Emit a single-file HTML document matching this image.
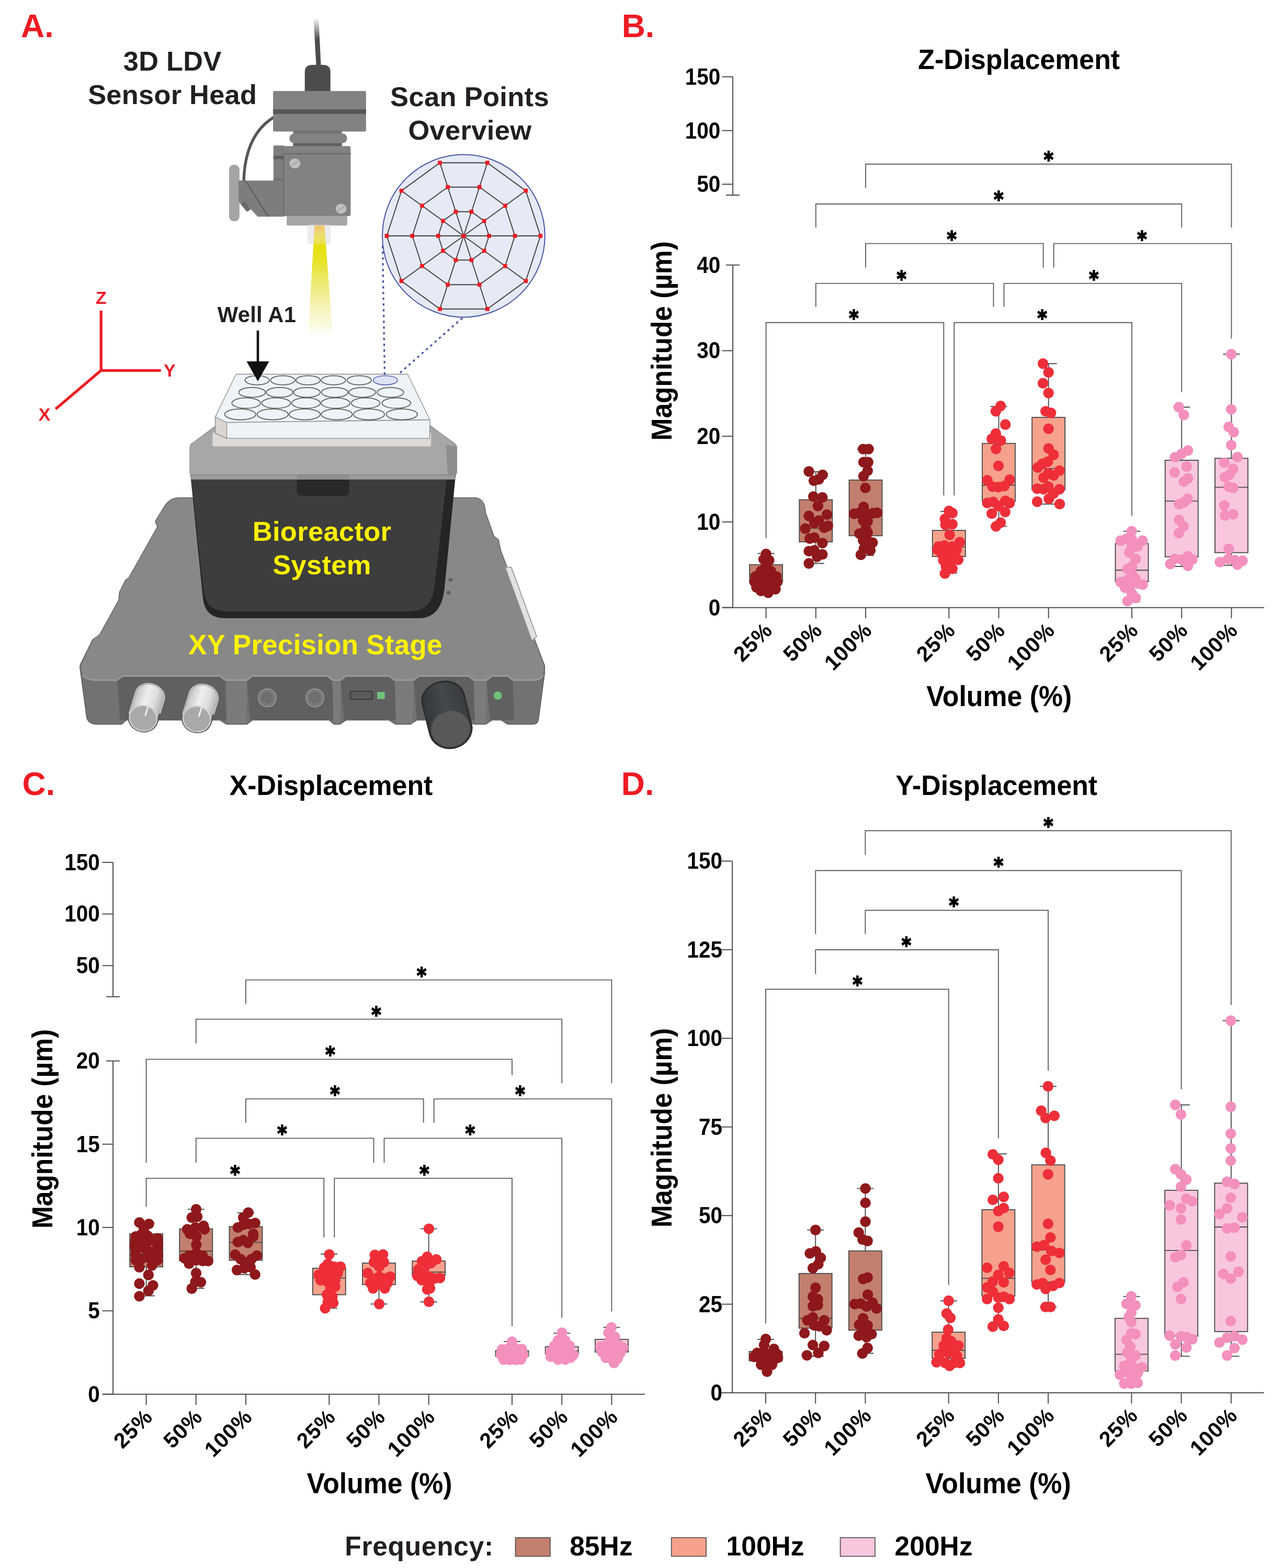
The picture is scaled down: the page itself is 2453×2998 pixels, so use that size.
<!DOCTYPE html>
<html lang="en"><head><meta charset="utf-8"><title>Figure</title>
<style>
html,body{margin:0;padding:0;background:#fff;}
body{width:2453px;height:2998px;overflow:hidden;}
svg{display:block;font-family:"Liberation Sans",sans-serif;font-weight:bold;}
</style></head><body>
<svg width="2453" height="2998" viewBox="0 0 2453 2998">
<rect width="2453" height="2998" fill="#fff"/>
<defs>
<linearGradient id="cabfade" x1="0" y1="0" x2="0" y2="1"><stop offset="0" stop-color="#4b4d4b" stop-opacity="0"/><stop offset="0.45" stop-color="#4b4d4b" stop-opacity="1"/></linearGradient>
<linearGradient id="beam" x1="0" y1="0" x2="0" y2="1"><stop offset="0" stop-color="#f3b83e"/><stop offset="0.07" stop-color="#f0d23e"/><stop offset="0.12" stop-color="#e9df2c"/><stop offset="0.17" stop-color="#e6e010"/><stop offset="0.31" stop-color="#e8e325"/><stop offset="0.48" stop-color="#ede96a"/><stop offset="0.62" stop-color="#f2ee98"/><stop offset="0.76" stop-color="#f7f5c4"/><stop offset="0.9" stop-color="#fbfbe6"/><stop offset="1" stop-color="#ffffff" stop-opacity="0"/></linearGradient>
<linearGradient id="knobS" x1="0" y1="0" x2="1" y2="0"><stop offset="0" stop-color="#c4c2c2"/><stop offset="0.4" stop-color="#f0eeee"/><stop offset="0.7" stop-color="#dedcdc"/><stop offset="1" stop-color="#b4b2b2"/></linearGradient>
<linearGradient id="knobD" x1="0" y1="0" x2="1" y2="0"><stop offset="0" stop-color="#34373a"/><stop offset="0.5" stop-color="#44484b"/><stop offset="1" stop-color="#3a3c3e"/></linearGradient>
<linearGradient id="front" x1="0" y1="0" x2="0" y2="1"><stop offset="0" stop-color="#7a7a7a"/><stop offset="1" stop-color="#6a6a6a"/></linearGradient>
</defs>
<g transform="translate(130,920) scale(0.29377)">
<path d="M720,108 H2650 Q2700,112 2712,165 L2718,205 L2772,358 L2802,382 L2816,450 L3102,1200 V1250 L3062,1550 Q3058,1582 3025,1582 H2860 L2820,1555 H2760 L2720,1582 H2640 L2600,1555 H2270 L2230,1582 H2130 L2090,1555 H1810 L1770,1582 H1730 L1700,1555 H1200 L1165,1582 H1030 L990,1555 H380 L350,1582 H185 Q135,1580 122,1540 L78,1215 Q76,1195 90,1175 L160,1032 L205,1000 L330,775 L335,722 L375,642 L395,630 L582,297 L568,262 L625,168 Q660,110 720,108 Z" fill="#727272" stroke="#5a5a5a" stroke-width="5" stroke-linejoin="round"/>
<path d="M720,110 H2650 Q2700,112 2710,165 L2716,205 L2770,358 L2800,382 L2814,450 L3098,1200 L3092,1262 Q3080,1290 3040,1295 H2895 L2860,1268 H2760 L2725,1295 H2640 L2605,1268 H2285 L2250,1295 H2125 L2090,1268 H1810 L1775,1295 H1720 L1690,1268 H1200 L1165,1295 H1022 L990,1268 H355 L320,1295 H180 Q110,1290 95,1262 L82,1205 L162,1032 L207,1000 L332,775 L337,722 L377,642 L397,630 L584,297 L570,262 L627,168 Q662,112 720,110 Z" fill="#888888"/>
<path d="M95,1262 Q110,1290 180,1295 H320 L355,1268 H990 L1022,1295 H1165 L1200,1268 H1690 L1720,1295 H1775 L1810,1268 H2090 L2125,1295 H2250 L2285,1268 H2605 L2640,1295 H2725 L2760,1268 H2860 L2895,1295 H3040 Q3080,1290 3092,1262" fill="none" stroke="#9d9d9d" stroke-width="9" stroke-linejoin="round"/>
<path d="M320,1300 L355,1273 H987 L1022,1300 L1030,1555 H340 Z" fill="#606060"/>
<path d="M1165,1300 L1200,1273 H1685 L1720,1300 L1728,1555 H1185 Z" fill="#606060"/>
<path d="M1775,1300 L1810,1273 H2090 L2125,1300 L2133,1555 H1795 Z" fill="#606060"/>
<path d="M2250,1300 L2285,1273 H2605 L2640,1300 L2648,1555 H2270 Z" fill="#606060"/>
<path d="M2725,1300 L2760,1273 H2860 L2895,1300 L2903,1555 H2745 Z" fill="#606060"/>
<path d="M1030,1302 H1165 L1159,1578 H1036 Z" fill="#7b7b7b"/>
<path d="M1722,1302 H1775 L1769,1578 H1728 Z" fill="#7b7b7b"/>
<path d="M2130,1302 H2250 L2244,1578 H2136 Z" fill="#7b7b7b"/>
<path d="M2642,1302 H2725 L2719,1578 H2648 Z" fill="#7b7b7b"/>
<path d="M2845,560 L2885,560 L3050,1010 L3020,1040 Z" fill="#e2e0e0" stroke="#8a8a8a" stroke-width="5" stroke-linejoin="round"/>
<ellipse cx="2490" cy="642" rx="15" ry="11" fill="#606060"/><ellipse cx="2477" cy="726" rx="15" ry="12" fill="#606060"/>
<circle cx="1297" cy="1410" r="57" fill="#6b6b6b" stroke="#969696" stroke-width="8"/>
<circle cx="1297" cy="1410" r="43" fill="#6e6e6e" stroke="#8a8a8a" stroke-width="5"/>
<circle cx="1607" cy="1410" r="57" fill="#6b6b6b" stroke="#969696" stroke-width="8"/>
<circle cx="1607" cy="1410" r="43" fill="#6e6e6e" stroke="#8a8a8a" stroke-width="5"/>
<rect x="1838" y="1368" width="144" height="52" rx="5" fill="#5a5a5a" stroke="#3f3f3f" stroke-width="8"/>
<rect x="2012" y="1372" width="50" height="46" rx="4" fill="#6fc07a"/>
<circle cx="2797" cy="1395" r="27" fill="#6fc07a"/>
<g transform="translate(489,1543) rotate(17)">
<path d="M-95,0 V-150 A95,80 0 0 1 95,-150 V0 A95,86 0 0 1 -95,0 Z" fill="url(#knobS)" stroke="#5a5a5a" stroke-width="11" stroke-linejoin="round"/>
<path d="M-95,0 V-150 A95,80 0 0 1 95,-150 V-60" fill="none" stroke="#bdbbbb" stroke-width="11"/>
<ellipse cx="0" cy="0" rx="90" ry="82" fill="#a9a9a9" stroke="#d2d0d0" stroke-width="8"/>
<path d="M8,-22 V-78" stroke="#f0f0f0" stroke-width="10" stroke-linecap="round"/>
</g>
<g transform="translate(838,1548) rotate(17)">
<path d="M-95,0 V-150 A95,80 0 0 1 95,-150 V0 A95,86 0 0 1 -95,0 Z" fill="url(#knobS)" stroke="#5a5a5a" stroke-width="11" stroke-linejoin="round"/>
<path d="M-95,0 V-150 A95,80 0 0 1 95,-150 V-60" fill="none" stroke="#bdbbbb" stroke-width="11"/>
<ellipse cx="0" cy="0" rx="90" ry="82" fill="#a9a9a9" stroke="#d2d0d0" stroke-width="8"/>
<path d="M8,-22 V-78" stroke="#f0f0f0" stroke-width="10" stroke-linecap="round"/>
</g>
<g transform="translate(2490,1612) rotate(-14)">
<path d="M-138,0 V-200 A138,112 0 0 1 138,-200 V0 A138,125 0 0 1 -138,0 Z" fill="url(#knobD)" stroke="#2c2e2f" stroke-width="12" stroke-linejoin="round"/>
<ellipse cx="0" cy="0" rx="128" ry="118" fill="#585a5a" stroke="#44474a" stroke-width="6"/>
</g>
</g>
<g transform="translate(130,920) scale(0.29377)">
<path d="M795,-60 H2525 L2450,700 Q2430,885 2290,892 H1010 Q890,885 878,760 Z" fill="#242525"/>
<path d="M797,-60 H2470 L2385,690 Q2365,840 2240,848 H1025 Q900,840 884,725 Z" fill="#3d3d3d"/>
<rect x="1490" y="-40" width="340" height="135" rx="28" fill="#272929"/>
</g>
<g transform="translate(340,660) scale(0.32258)">
<path d="M68,610 Q68,590 85,580 L225,478 H1498 L1640,580 Q1655,590 1655,610 V750 Q1655,772 1635,772 H88 Q68,772 68,750 Z" fill="#a7a7a7"/>
<path d="M1590,590 L1655,600 V750 Q1655,772 1635,772 H1600 Z" fill="#8d8d8d"/>
<path d="M75,590 L225,478 H1498 L1648,590" fill="none" stroke="#8a8a8a" stroke-width="4"/>
<rect x="78" y="768" width="1565" height="28" fill="#9c9c9c"/>
<rect x="78" y="766" width="1565" height="5" fill="#868686"/>
<rect x="708" y="770" width="308" height="26" fill="#8e8e8e"/>
</g>
<g transform="translate(340,660) scale(0.32258)">
<rect x="205" y="515" width="1296" height="86" rx="10" fill="#dcd9d7" stroke="#bdbab8" stroke-width="3"/>
<path d="M345,172 H1362 L1494,442 L1492,552 H290 L222,522 V425 Z" fill="#eef3f8" stroke="#8b8b8b" stroke-width="4" stroke-linejoin="round"/>
<path d="M222,425 L290,458 V552 L222,522 Z" fill="#d9d5d3" stroke="#8b8b8b" stroke-width="4" stroke-linejoin="round"/>
<path d="M290,458 L1494,442" fill="none" stroke="#8b8b8b" stroke-width="5"/>
<ellipse cx="470" cy="208" rx="72" ry="27" fill="none" stroke="#606060" stroke-width="5.5"/>
<ellipse cx="622" cy="208" rx="72" ry="27" fill="none" stroke="#606060" stroke-width="5.5"/>
<ellipse cx="772" cy="208" rx="72" ry="27" fill="none" stroke="#606060" stroke-width="5.5"/>
<ellipse cx="922" cy="208" rx="72" ry="27" fill="none" stroke="#606060" stroke-width="5.5"/>
<ellipse cx="1075" cy="208" rx="72" ry="27" fill="none" stroke="#606060" stroke-width="5.5"/>
<ellipse cx="1230" cy="208" rx="72" ry="27" fill="#dfe3f3" stroke="#4959a7" stroke-width="4.5"/>
<ellipse cx="440" cy="280" rx="79" ry="29" fill="none" stroke="#606060" stroke-width="5.5"/>
<ellipse cx="603" cy="280" rx="79" ry="29" fill="none" stroke="#606060" stroke-width="5.5"/>
<ellipse cx="765" cy="280" rx="79" ry="29" fill="none" stroke="#606060" stroke-width="5.5"/>
<ellipse cx="930" cy="280" rx="79" ry="29" fill="none" stroke="#606060" stroke-width="5.5"/>
<ellipse cx="1093" cy="280" rx="79" ry="29" fill="none" stroke="#606060" stroke-width="5.5"/>
<ellipse cx="1260" cy="280" rx="79" ry="29" fill="none" stroke="#606060" stroke-width="5.5"/>
<ellipse cx="405" cy="343" rx="85" ry="31" fill="none" stroke="#606060" stroke-width="5.5"/>
<ellipse cx="583" cy="343" rx="85" ry="31" fill="none" stroke="#606060" stroke-width="5.5"/>
<ellipse cx="760" cy="343" rx="85" ry="31" fill="none" stroke="#606060" stroke-width="5.5"/>
<ellipse cx="935" cy="343" rx="85" ry="31" fill="none" stroke="#606060" stroke-width="5.5"/>
<ellipse cx="1113" cy="343" rx="85" ry="31" fill="none" stroke="#606060" stroke-width="5.5"/>
<ellipse cx="1295" cy="343" rx="85" ry="31" fill="none" stroke="#606060" stroke-width="5.5"/>
<ellipse cx="370" cy="410" rx="92" ry="32" fill="none" stroke="#606060" stroke-width="5.5"/>
<ellipse cx="562" cy="410" rx="92" ry="32" fill="none" stroke="#606060" stroke-width="5.5"/>
<ellipse cx="752" cy="410" rx="92" ry="32" fill="none" stroke="#606060" stroke-width="5.5"/>
<ellipse cx="942" cy="410" rx="92" ry="32" fill="none" stroke="#606060" stroke-width="5.5"/>
<ellipse cx="1133" cy="410" rx="92" ry="32" fill="none" stroke="#606060" stroke-width="5.5"/>
<ellipse cx="1328" cy="410" rx="92" ry="32" fill="none" stroke="#606060" stroke-width="5.5"/>
</g>
<g transform="translate(400,0) scale(0.22613)">
<path d="M882,150 L925,150 L945,560 L905,560 Z" fill="url(#cabfade)"/>
<path d="M808,770 V610 Q808,548 870,548 H963 Q1025,548 1025,610 V770 Z" fill="#4b4d4b"/>
<path d="M548,990 C400,1080 300,1250 292,1530" fill="none" stroke="#555755" stroke-width="24"/>
<rect x="540" y="770" width="786" height="342" rx="12" fill="#808381"/>
<rect x="540" y="925" width="786" height="38" fill="#565856"/>
<rect x="710" y="1105" width="412" height="135" fill="#6f7270"/>
<rect x="678" y="1128" width="488" height="84" rx="42" fill="#808381"/>
<rect x="710" y="1212" width="412" height="24" fill="#5f6160"/>
<rect x="168" y="1393" width="88" height="478" rx="40" fill="#a4a4a4"/>
<path d="M248,1527 H635 V1832 H410 L330,1745 L318,1790 L268,1730 L248,1700 Z" fill="#7b7e7c"/>
<path d="M268,1725 L320,1790 L352,1770 L300,1700 Z" fill="#6a6c6a"/>
<path d="M305,1527 L500,1832" stroke="#5a5c5a" stroke-width="9" fill="none"/>
<rect x="543" y="1230" width="95" height="297" rx="6" fill="#7b7e7c"/>
<rect x="543" y="1318" width="95" height="28" fill="#5d5f5d"/>
<rect x="543" y="1515" width="95" height="12" fill="#666866"/>
<rect x="630" y="1235" width="566" height="592" rx="16" fill="#808381"/>
<rect x="630" y="1295" width="566" height="9" fill="#666866"/>
<rect x="626" y="1300" width="9" height="525" fill="#6c6e6c"/>
<ellipse cx="724" cy="1382" rx="46" ry="42" fill="#c2c0be"/>
<path d="M694,1400 L754,1364" stroke="#a5a3a1" stroke-width="9" stroke-linecap="round"/>
<ellipse cx="1115" cy="1765" rx="46" ry="42" fill="#c2c0be"/>
<path d="M1085,1783 L1145,1747" stroke="#a5a3a1" stroke-width="9" stroke-linecap="round"/>
<rect x="655" y="1825" width="512" height="82" rx="10" fill="#a6a6a6"/>
<path d="M835,1905 H1022 V2040 Q1022,2062 1000,2062 H857 Q835,2062 835,2040 Z" fill="#ededed" stroke="#e2e2e2" stroke-width="4"/>
</g>
<path d="M601.4,431 L620.3,431 L636.9,648 L588.6,648 Z" fill="url(#beam)"/>
<rect x="588.8" y="431" width="42.4" height="35.3" rx="4" fill="#e8e8ee" opacity="0.28"/>
<circle cx="886.4" cy="451.0" r="155.4" fill="#e6eaf6" stroke="#4959a7" stroke-width="2"/>
<g fill="none" stroke="#414141" stroke-width="1.9"><polygon points="935.0,451.0 925.7,422.4 901.4,404.8 871.4,404.8 847.1,422.4 837.8,451.0 847.1,479.6 871.4,497.2 901.4,497.2 925.7,479.6"/><polygon points="984.5,451.0 965.8,393.3 916.7,357.7 856.1,357.7 807.0,393.3 788.3,451.0 807.0,508.7 856.1,544.3 916.7,544.3 965.8,508.7"/><polygon points="1033.3,451.0 1005.2,364.7 931.8,311.3 841.0,311.3 767.6,364.7 739.5,451.0 767.6,537.3 841.0,590.7 931.8,590.7 1005.2,537.3"/><line x1="886.4" y1="451.0" x2="1033.3" y2="451.0"/><line x1="886.4" y1="451.0" x2="1005.2" y2="364.7"/><line x1="886.4" y1="451.0" x2="931.8" y2="311.3"/><line x1="886.4" y1="451.0" x2="841.0" y2="311.3"/><line x1="886.4" y1="451.0" x2="767.6" y2="364.7"/><line x1="886.4" y1="451.0" x2="739.5" y2="451.0"/><line x1="886.4" y1="451.0" x2="767.6" y2="537.3"/><line x1="886.4" y1="451.0" x2="841.0" y2="590.7"/><line x1="886.4" y1="451.0" x2="931.8" y2="590.7"/><line x1="886.4" y1="451.0" x2="1005.2" y2="537.3"/></g>
<g fill="#ee1c25"><rect x="882.5" y="447.1" width="7.8" height="7.8"/><rect x="931.1" y="447.1" width="7.8" height="7.8"/><rect x="921.8" y="418.5" width="7.8" height="7.8"/><rect x="897.5" y="400.9" width="7.8" height="7.8"/><rect x="867.5" y="400.9" width="7.8" height="7.8"/><rect x="843.2" y="418.5" width="7.8" height="7.8"/><rect x="833.9" y="447.1" width="7.8" height="7.8"/><rect x="843.2" y="475.7" width="7.8" height="7.8"/><rect x="867.5" y="493.3" width="7.8" height="7.8"/><rect x="897.5" y="493.3" width="7.8" height="7.8"/><rect x="921.8" y="475.7" width="7.8" height="7.8"/><rect x="980.6" y="447.1" width="7.8" height="7.8"/><rect x="961.9" y="389.4" width="7.8" height="7.8"/><rect x="912.8" y="353.8" width="7.8" height="7.8"/><rect x="852.2" y="353.8" width="7.8" height="7.8"/><rect x="803.1" y="389.4" width="7.8" height="7.8"/><rect x="784.4" y="447.1" width="7.8" height="7.8"/><rect x="803.1" y="504.8" width="7.8" height="7.8"/><rect x="852.2" y="540.4" width="7.8" height="7.8"/><rect x="912.8" y="540.4" width="7.8" height="7.8"/><rect x="961.9" y="504.8" width="7.8" height="7.8"/><rect x="1029.4" y="447.1" width="7.8" height="7.8"/><rect x="1001.3" y="360.8" width="7.8" height="7.8"/><rect x="927.9" y="307.4" width="7.8" height="7.8"/><rect x="837.1" y="307.4" width="7.8" height="7.8"/><rect x="763.7" y="360.8" width="7.8" height="7.8"/><rect x="735.6" y="447.1" width="7.8" height="7.8"/><rect x="763.7" y="533.4" width="7.8" height="7.8"/><rect x="837.1" y="586.8" width="7.8" height="7.8"/><rect x="927.9" y="586.8" width="7.8" height="7.8"/><rect x="1001.3" y="533.4" width="7.8" height="7.8"/></g>
<path d="M731.5,470 L735.5,717" fill="none" stroke="#4656a3" stroke-width="3.2" stroke-dasharray="4.6 6.4"/>
<path d="M884,608 L760,717" fill="none" stroke="#4656a3" stroke-width="3.2" stroke-dasharray="4.6 6.4"/>
<path d="M493,632 V695" stroke="#111" stroke-width="4.6" fill="none"/>
<path d="M471.5,691 H514.5 L493,729 Z" fill="#111"/>
<path d="M193.2,594 V708.3 H307.7 M193.2,708.3 L106.3,782" fill="none" stroke="#ed1c24" stroke-width="5.2" stroke-linejoin="miter"/>
<text x="329.7" y="134.8" font-size="52.3" letter-spacing="0.3" text-anchor="middle" fill="#231f20">3D LDV</text>
<text x="329.7" y="198.8" font-size="52.3" letter-spacing="0.3" text-anchor="middle" fill="#231f20">Sensor Head</text>
<text x="898" y="203" font-size="52.5" letter-spacing="0.3" text-anchor="middle" fill="#231f20">Scan Points</text>
<text x="898.4" y="266.6" font-size="52.5" letter-spacing="0.3" text-anchor="middle" fill="#231f20">Overview</text>
<text x="491" y="616" font-size="41.7" letter-spacing="0.3" text-anchor="middle" fill="#231f20">Well A1</text>
<text x="615.5" y="1034.4" font-size="52.5" letter-spacing="0.3" text-anchor="middle" fill="#fff200">Bioreactor</text>
<text x="615.5" y="1098" font-size="52.5" letter-spacing="0.3" text-anchor="middle" fill="#fff200">System</text>
<text x="602.8" y="1251.2" font-size="52.8" letter-spacing="0.3" text-anchor="middle" fill="#fff200">XY Precision Stage</text>
<text x="193.6" y="581.3" font-size="34" letter-spacing="0.3" text-anchor="middle" fill="#ed1c24">Z</text>
<text x="324.5" y="719.5" font-size="34" letter-spacing="0.3" text-anchor="middle" fill="#ed1c24">Y</text>
<text x="85.2" y="804" font-size="34" letter-spacing="0.3" text-anchor="middle" fill="#ed1c24">X</text>
<line x1="1381.5" y1="1161.7" x2="2417.0" y2="1161.7" stroke="#4d4d4d" stroke-width="2" />
<line x1="1464.6" y1="1161.7" x2="1464.6" y2="1182.2" stroke="#4d4d4d" stroke-width="2" />
<line x1="1559.8" y1="1161.7" x2="1559.8" y2="1182.2" stroke="#4d4d4d" stroke-width="2" />
<line x1="1655.0" y1="1161.7" x2="1655.0" y2="1182.2" stroke="#4d4d4d" stroke-width="2" />
<line x1="1814.3" y1="1161.7" x2="1814.3" y2="1182.2" stroke="#4d4d4d" stroke-width="2" />
<line x1="1909.5" y1="1161.7" x2="1909.5" y2="1182.2" stroke="#4d4d4d" stroke-width="2" />
<line x1="2004.7" y1="1161.7" x2="2004.7" y2="1182.2" stroke="#4d4d4d" stroke-width="2" />
<line x1="2164.0" y1="1161.7" x2="2164.0" y2="1182.2" stroke="#4d4d4d" stroke-width="2" />
<line x1="2259.2" y1="1161.7" x2="2259.2" y2="1182.2" stroke="#4d4d4d" stroke-width="2" />
<line x1="2354.4" y1="1161.7" x2="2354.4" y2="1182.2" stroke="#4d4d4d" stroke-width="2" />
<text transform="translate(1479.1,1207.7) rotate(-45)" font-size="41" letter-spacing="0.8" text-anchor="end" fill="#000">25%</text>
<text transform="translate(1574.3,1207.7) rotate(-45)" font-size="41" letter-spacing="0.8" text-anchor="end" fill="#000">50%</text>
<text transform="translate(1669.5,1207.7) rotate(-45)" font-size="41" letter-spacing="0.8" text-anchor="end" fill="#000">100%</text>
<text transform="translate(1828.8,1207.7) rotate(-45)" font-size="41" letter-spacing="0.8" text-anchor="end" fill="#000">25%</text>
<text transform="translate(1924.0,1207.7) rotate(-45)" font-size="41" letter-spacing="0.8" text-anchor="end" fill="#000">50%</text>
<text transform="translate(2019.2,1207.7) rotate(-45)" font-size="41" letter-spacing="0.8" text-anchor="end" fill="#000">100%</text>
<text transform="translate(2178.5,1207.7) rotate(-45)" font-size="41" letter-spacing="0.8" text-anchor="end" fill="#000">25%</text>
<text transform="translate(2273.7,1207.7) rotate(-45)" font-size="41" letter-spacing="0.8" text-anchor="end" fill="#000">50%</text>
<text transform="translate(2368.9,1207.7) rotate(-45)" font-size="41" letter-spacing="0.8" text-anchor="end" fill="#000">100%</text>
<line x1="1401.1" y1="1161.7" x2="1401.1" y2="506.7" stroke="#4d4d4d" stroke-width="2" />
<line x1="1380.6" y1="1161.7" x2="1401.1" y2="1161.7" stroke="#4d4d4d" stroke-width="2" />
<text transform="translate(1377.3,1160.8) scale(1,1.09)" x="0" y="14.5" font-size="40.5" text-anchor="end" fill="#000">0</text>
<line x1="1380.6" y1="997.9" x2="1401.1" y2="997.9" stroke="#4d4d4d" stroke-width="2" />
<text transform="translate(1377.3,997.0) scale(1,1.09)" x="0" y="14.5" font-size="40.5" text-anchor="end" fill="#000">10</text>
<line x1="1380.6" y1="834.2" x2="1401.1" y2="834.2" stroke="#4d4d4d" stroke-width="2" />
<text transform="translate(1377.3,833.3) scale(1,1.09)" x="0" y="14.5" font-size="40.5" text-anchor="end" fill="#000">20</text>
<line x1="1380.6" y1="670.5" x2="1401.1" y2="670.5" stroke="#4d4d4d" stroke-width="2" />
<text transform="translate(1377.3,669.6) scale(1,1.09)" x="0" y="14.5" font-size="40.5" text-anchor="end" fill="#000">30</text>
<line x1="1388.1" y1="506.7" x2="1414.1" y2="506.7" stroke="#4d4d4d" stroke-width="2" />
<text transform="translate(1377.3,505.8) scale(1,1.09)" x="0" y="14.5" font-size="40.5" text-anchor="end" fill="#000">40</text>
<line x1="1401.1" y1="373.0" x2="1401.1" y2="146.8" stroke="#4d4d4d" stroke-width="2" />
<line x1="1380.6" y1="146.8" x2="1401.1" y2="146.8" stroke="#4d4d4d" stroke-width="2" />
<text transform="translate(1377.3,145.9) scale(1,1.09)" x="0" y="14.5" font-size="40.5" text-anchor="end" fill="#000">150</text>
<line x1="1380.6" y1="249.6" x2="1401.1" y2="249.6" stroke="#4d4d4d" stroke-width="2" />
<text transform="translate(1377.3,248.7) scale(1,1.09)" x="0" y="14.5" font-size="40.5" text-anchor="end" fill="#000">100</text>
<line x1="1380.6" y1="352.3" x2="1401.1" y2="352.3" stroke="#4d4d4d" stroke-width="2" />
<text transform="translate(1377.3,351.4) scale(1,1.09)" x="0" y="14.5" font-size="40.5" text-anchor="end" fill="#000">50</text>
<line x1="1388.1" y1="373.0" x2="1414.1" y2="373.0" stroke="#4d4d4d" stroke-width="2" />
<text transform="translate(1948.2,132.4) scale(1,1.05)" font-size="51.8" text-anchor="middle" fill="#000">Z-Displacement</text>
<text transform="translate(1910.2,1350.2) scale(1,1.06)" font-size="51.8" text-anchor="middle" fill="#000">Volume (%)</text>
<text transform="translate(1283.6,651.7) rotate(-90) scale(1,1.08)" font-size="51.5" text-anchor="middle" fill="#000">Magnitude (µm)</text>
<path d="M1655.0,359.5 V313.8 H2354.4 V435.1" fill="none" stroke="#606060" stroke-width="1.9"/>
<text transform="translate(2005.0,318.7) scale(1,1.18)" font-family="DejaVu Sans, sans-serif" font-size="35" stroke="#000" stroke-width="1.7" stroke-linejoin="miter" text-anchor="middle" fill="#000">*</text>
<path d="M1559.8,435.1 V390.0 H2259.2 V435.1" fill="none" stroke="#606060" stroke-width="1.9"/>
<text transform="translate(1909.5,394.9) scale(1,1.18)" font-family="DejaVu Sans, sans-serif" font-size="35" stroke="#000" stroke-width="1.7" stroke-linejoin="miter" text-anchor="middle" fill="#000">*</text>
<path d="M1655.0,511.7 V465.6 H1994.7 V511.7" fill="none" stroke="#606060" stroke-width="1.9"/>
<text transform="translate(1819.6,470.5) scale(1,1.18)" font-family="DejaVu Sans, sans-serif" font-size="35" stroke="#000" stroke-width="1.7" stroke-linejoin="miter" text-anchor="middle" fill="#000">*</text>
<path d="M2014.7,511.7 V465.6 H2354.4 V647.6" fill="none" stroke="#606060" stroke-width="1.9"/>
<text transform="translate(2183.3,470.5) scale(1,1.18)" font-family="DejaVu Sans, sans-serif" font-size="35" stroke="#000" stroke-width="1.7" stroke-linejoin="miter" text-anchor="middle" fill="#000">*</text>
<path d="M1559.8,586.7 V541.9 H1899.5 V586.7" fill="none" stroke="#606060" stroke-width="1.9"/>
<text transform="translate(1723.7,546.8) scale(1,1.18)" font-family="DejaVu Sans, sans-serif" font-size="35" stroke="#000" stroke-width="1.7" stroke-linejoin="miter" text-anchor="middle" fill="#000">*</text>
<path d="M1919.5,586.7 V541.9 H2259.2 V749.7" fill="none" stroke="#606060" stroke-width="1.9"/>
<text transform="translate(2091.5,546.8) scale(1,1.18)" font-family="DejaVu Sans, sans-serif" font-size="35" stroke="#000" stroke-width="1.7" stroke-linejoin="miter" text-anchor="middle" fill="#000">*</text>
<path d="M1464.6,1028.7 V616.8 H1804.3 V947.3" fill="none" stroke="#606060" stroke-width="1.9"/>
<text transform="translate(1632.4,621.7) scale(1,1.18)" font-family="DejaVu Sans, sans-serif" font-size="35" stroke="#000" stroke-width="1.7" stroke-linejoin="miter" text-anchor="middle" fill="#000">*</text>
<path d="M1824.3,947.3 V616.8 H2164.0 V986.2" fill="none" stroke="#606060" stroke-width="1.9"/>
<text transform="translate(1992.6,621.7) scale(1,1.18)" font-family="DejaVu Sans, sans-serif" font-size="35" stroke="#000" stroke-width="1.7" stroke-linejoin="miter" text-anchor="middle" fill="#000">*</text>
<line x1="1464.6" y1="1128.5" x2="1464.6" y2="1058.2" stroke="#4d4d4d" stroke-width="1.9" />
<line x1="1448.6" y1="1128.5" x2="1480.6" y2="1128.5" stroke="#4d4d4d" stroke-width="1.9" />
<line x1="1448.6" y1="1058.2" x2="1480.6" y2="1058.2" stroke="#4d4d4d" stroke-width="1.9" />
<rect x="1433.1" y="1079.7" width="63" height="33.0" fill="#c37f6e" stroke="#4d4d4d" stroke-width="1.9"/>
<line x1="1433.1" y1="1098.0" x2="1496.1" y2="1098.0" stroke="#4d4d4d" stroke-width="1.9" />
<circle cx="1464.6" cy="1059.1" r="10.2" fill="#8e181b"/>
<circle cx="1460.1" cy="1069.5" r="10.2" fill="#8e181b"/>
<circle cx="1470.5" cy="1071.2" r="10.2" fill="#8e181b"/>
<circle cx="1464.6" cy="1081.6" r="10.2" fill="#8e181b"/>
<circle cx="1454.9" cy="1091.9" r="10.2" fill="#8e181b"/>
<circle cx="1473.9" cy="1091.9" r="10.2" fill="#8e181b"/>
<circle cx="1444.6" cy="1102.3" r="10.2" fill="#8e181b"/>
<circle cx="1464.6" cy="1100.6" r="10.2" fill="#8e181b"/>
<circle cx="1484.3" cy="1102.3" r="10.2" fill="#8e181b"/>
<circle cx="1442.8" cy="1112.7" r="10.2" fill="#8e181b"/>
<circle cx="1453.2" cy="1110.9" r="10.2" fill="#8e181b"/>
<circle cx="1475.7" cy="1110.9" r="10.2" fill="#8e181b"/>
<circle cx="1486.0" cy="1112.7" r="10.2" fill="#8e181b"/>
<circle cx="1446.3" cy="1123.0" r="10.2" fill="#8e181b"/>
<circle cx="1461.8" cy="1121.3" r="10.2" fill="#8e181b"/>
<circle cx="1479.1" cy="1123.0" r="10.2" fill="#8e181b"/>
<circle cx="1454.9" cy="1129.9" r="10.2" fill="#8e181b"/>
<circle cx="1468.8" cy="1133.4" r="10.2" fill="#8e181b"/>
<circle cx="1482.6" cy="1126.5" r="10.2" fill="#8e181b"/>
<circle cx="1467.0" cy="1128.2" r="10.2" fill="#8e181b"/>
<circle cx="1464.6" cy="1109.2" r="10.2" fill="#8e181b"/>
<line x1="1559.8" y1="1077.2" x2="1559.8" y2="902.0" stroke="#4d4d4d" stroke-width="1.9" />
<line x1="1543.8" y1="1077.2" x2="1575.8" y2="1077.2" stroke="#4d4d4d" stroke-width="1.9" />
<line x1="1543.8" y1="902.0" x2="1575.8" y2="902.0" stroke="#4d4d4d" stroke-width="1.9" />
<rect x="1528.3" y="955.5" width="63" height="80.5" fill="#c37f6e" stroke="#4d4d4d" stroke-width="1.9"/>
<line x1="1528.3" y1="1009.8" x2="1591.3" y2="1009.8" stroke="#4d4d4d" stroke-width="1.9" />
<circle cx="1546.5" cy="901.5" r="10.2" fill="#8e181b"/>
<circle cx="1572.8" cy="907.9" r="10.2" fill="#8e181b"/>
<circle cx="1556.0" cy="919.1" r="10.2" fill="#8e181b"/>
<circle cx="1565.5" cy="916.5" r="10.2" fill="#8e181b"/>
<circle cx="1555.2" cy="949.4" r="10.2" fill="#8e181b"/>
<circle cx="1572.4" cy="951.1" r="10.2" fill="#8e181b"/>
<circle cx="1563.8" cy="967.5" r="10.2" fill="#8e181b"/>
<circle cx="1546.5" cy="986.5" r="10.2" fill="#8e181b"/>
<circle cx="1581.1" cy="983.9" r="10.2" fill="#8e181b"/>
<circle cx="1565.5" cy="995.2" r="10.2" fill="#8e181b"/>
<circle cx="1556.9" cy="1000.3" r="10.2" fill="#8e181b"/>
<circle cx="1539.6" cy="1010.7" r="10.2" fill="#8e181b"/>
<circle cx="1575.9" cy="1009.0" r="10.2" fill="#8e181b"/>
<circle cx="1582.8" cy="1005.5" r="10.2" fill="#8e181b"/>
<circle cx="1548.2" cy="1029.7" r="10.2" fill="#8e181b"/>
<circle cx="1556.9" cy="1028.0" r="10.2" fill="#8e181b"/>
<circle cx="1572.4" cy="1038.4" r="10.2" fill="#8e181b"/>
<circle cx="1546.5" cy="1053.9" r="10.2" fill="#8e181b"/>
<circle cx="1556.9" cy="1052.2" r="10.2" fill="#8e181b"/>
<circle cx="1572.4" cy="1060.0" r="10.2" fill="#8e181b"/>
<circle cx="1562.1" cy="1064.3" r="10.2" fill="#8e181b"/>
<circle cx="1546.5" cy="1077.2" r="10.2" fill="#8e181b"/>
<line x1="1655.0" y1="1062.0" x2="1655.0" y2="858.6" stroke="#4d4d4d" stroke-width="1.9" />
<line x1="1639.0" y1="1062.0" x2="1671.0" y2="1062.0" stroke="#4d4d4d" stroke-width="1.9" />
<line x1="1639.0" y1="858.6" x2="1671.0" y2="858.6" stroke="#4d4d4d" stroke-width="1.9" />
<rect x="1623.5" y="917.8" width="63" height="106.5" fill="#c37f6e" stroke="#4d4d4d" stroke-width="1.9"/>
<line x1="1623.5" y1="982.8" x2="1686.5" y2="982.8" stroke="#4d4d4d" stroke-width="1.9" />
<circle cx="1650.2" cy="858.6" r="10.2" fill="#8e181b"/>
<circle cx="1660.6" cy="858.6" r="10.2" fill="#8e181b"/>
<circle cx="1651.1" cy="883.7" r="10.2" fill="#8e181b"/>
<circle cx="1659.7" cy="883.7" r="10.2" fill="#8e181b"/>
<circle cx="1658.8" cy="900.1" r="10.2" fill="#8e181b"/>
<circle cx="1651.1" cy="910.5" r="10.2" fill="#8e181b"/>
<circle cx="1654.5" cy="932.9" r="10.2" fill="#8e181b"/>
<circle cx="1651.1" cy="969.2" r="10.2" fill="#8e181b"/>
<circle cx="1632.9" cy="982.2" r="10.2" fill="#8e181b"/>
<circle cx="1641.6" cy="981.3" r="10.2" fill="#8e181b"/>
<circle cx="1655.4" cy="981.3" r="10.2" fill="#8e181b"/>
<circle cx="1669.2" cy="981.3" r="10.2" fill="#8e181b"/>
<circle cx="1677.0" cy="980.5" r="10.2" fill="#8e181b"/>
<circle cx="1650.2" cy="995.2" r="10.2" fill="#8e181b"/>
<circle cx="1658.8" cy="996.9" r="10.2" fill="#8e181b"/>
<circle cx="1655.4" cy="1010.7" r="10.2" fill="#8e181b"/>
<circle cx="1643.3" cy="1020.2" r="10.2" fill="#8e181b"/>
<circle cx="1658.8" cy="1018.5" r="10.2" fill="#8e181b"/>
<circle cx="1650.2" cy="1033.2" r="10.2" fill="#8e181b"/>
<circle cx="1660.6" cy="1034.9" r="10.2" fill="#8e181b"/>
<circle cx="1668.3" cy="1037.5" r="10.2" fill="#8e181b"/>
<circle cx="1651.9" cy="1048.7" r="10.2" fill="#8e181b"/>
<circle cx="1664.0" cy="1052.2" r="10.2" fill="#8e181b"/>
<circle cx="1645.9" cy="1060.8" r="10.2" fill="#8e181b"/>
<line x1="1814.3" y1="1095.6" x2="1814.3" y2="978.0" stroke="#4d4d4d" stroke-width="1.9" />
<line x1="1798.3" y1="1095.6" x2="1830.3" y2="1095.6" stroke="#4d4d4d" stroke-width="1.9" />
<line x1="1798.3" y1="978.0" x2="1830.3" y2="978.0" stroke="#4d4d4d" stroke-width="1.9" />
<rect x="1782.8" y="1014.1" width="63" height="50.0" fill="#f6a18c" stroke="#4d4d4d" stroke-width="1.9"/>
<line x1="1782.8" y1="1045.9" x2="1845.8" y2="1045.9" stroke="#4d4d4d" stroke-width="1.9" />
<circle cx="1814.3" cy="977.0" r="10.2" fill="#ee2e38"/>
<circle cx="1820.8" cy="981.0" r="10.2" fill="#ee2e38"/>
<circle cx="1806.6" cy="992.2" r="10.2" fill="#ee2e38"/>
<circle cx="1820.8" cy="1002.3" r="10.2" fill="#ee2e38"/>
<circle cx="1807.6" cy="1003.3" r="10.2" fill="#ee2e38"/>
<circle cx="1815.7" cy="1022.6" r="10.2" fill="#ee2e38"/>
<circle cx="1835.0" cy="1036.8" r="10.2" fill="#ee2e38"/>
<circle cx="1794.5" cy="1044.9" r="10.2" fill="#ee2e38"/>
<circle cx="1805.6" cy="1042.9" r="10.2" fill="#ee2e38"/>
<circle cx="1820.8" cy="1044.9" r="10.2" fill="#ee2e38"/>
<circle cx="1792.4" cy="1051.0" r="10.2" fill="#ee2e38"/>
<circle cx="1828.9" cy="1051.0" r="10.2" fill="#ee2e38"/>
<circle cx="1800.5" cy="1059.1" r="10.2" fill="#ee2e38"/>
<circle cx="1814.7" cy="1057.1" r="10.2" fill="#ee2e38"/>
<circle cx="1826.9" cy="1066.2" r="10.2" fill="#ee2e38"/>
<circle cx="1803.6" cy="1071.2" r="10.2" fill="#ee2e38"/>
<circle cx="1816.8" cy="1075.3" r="10.2" fill="#ee2e38"/>
<circle cx="1832.0" cy="1070.2" r="10.2" fill="#ee2e38"/>
<circle cx="1808.7" cy="1083.4" r="10.2" fill="#ee2e38"/>
<circle cx="1820.8" cy="1087.5" r="10.2" fill="#ee2e38"/>
<circle cx="1806.6" cy="1096.6" r="10.2" fill="#ee2e38"/>
<line x1="1909.5" y1="1006.4" x2="1909.5" y2="777.3" stroke="#4d4d4d" stroke-width="1.9" />
<line x1="1893.5" y1="1006.4" x2="1925.5" y2="1006.4" stroke="#4d4d4d" stroke-width="1.9" />
<line x1="1893.5" y1="777.3" x2="1925.5" y2="777.3" stroke="#4d4d4d" stroke-width="1.9" />
<rect x="1878.0" y="847.8" width="63" height="110.9" fill="#f6a18c" stroke="#4d4d4d" stroke-width="1.9"/>
<line x1="1878.0" y1="927.7" x2="1941.0" y2="927.7" stroke="#4d4d4d" stroke-width="1.9" />
<circle cx="1913.1" cy="776.3" r="10.2" fill="#ee2e38"/>
<circle cx="1903.9" cy="786.4" r="10.2" fill="#ee2e38"/>
<circle cx="1922.2" cy="811.8" r="10.2" fill="#ee2e38"/>
<circle cx="1903.9" cy="829.0" r="10.2" fill="#ee2e38"/>
<circle cx="1896.2" cy="839.1" r="10.2" fill="#ee2e38"/>
<circle cx="1913.5" cy="842.2" r="10.2" fill="#ee2e38"/>
<circle cx="1904.3" cy="858.4" r="10.2" fill="#ee2e38"/>
<circle cx="1909.0" cy="890.8" r="10.2" fill="#ee2e38"/>
<circle cx="1887.7" cy="918.2" r="10.2" fill="#ee2e38"/>
<circle cx="1930.3" cy="917.2" r="10.2" fill="#ee2e38"/>
<circle cx="1897.8" cy="930.4" r="10.2" fill="#ee2e38"/>
<circle cx="1909.0" cy="931.4" r="10.2" fill="#ee2e38"/>
<circle cx="1920.1" cy="929.3" r="10.2" fill="#ee2e38"/>
<circle cx="1887.7" cy="961.8" r="10.2" fill="#ee2e38"/>
<circle cx="1898.9" cy="959.7" r="10.2" fill="#ee2e38"/>
<circle cx="1909.0" cy="967.9" r="10.2" fill="#ee2e38"/>
<circle cx="1922.2" cy="957.7" r="10.2" fill="#ee2e38"/>
<circle cx="1930.3" cy="961.8" r="10.2" fill="#ee2e38"/>
<circle cx="1896.2" cy="982.0" r="10.2" fill="#ee2e38"/>
<circle cx="1921.8" cy="979.0" r="10.2" fill="#ee2e38"/>
<circle cx="1913.1" cy="999.3" r="10.2" fill="#ee2e38"/>
<circle cx="1904.3" cy="1006.4" r="10.2" fill="#ee2e38"/>
<line x1="2004.7" y1="963.8" x2="2004.7" y2="695.2" stroke="#4d4d4d" stroke-width="1.9" />
<line x1="1988.7" y1="963.8" x2="2020.7" y2="963.8" stroke="#4d4d4d" stroke-width="1.9" />
<line x1="1988.7" y1="695.2" x2="2020.7" y2="695.2" stroke="#4d4d4d" stroke-width="1.9" />
<rect x="1973.2" y="798.0" width="63" height="138.4" fill="#f6a18c" stroke="#4d4d4d" stroke-width="1.9"/>
<line x1="1973.2" y1="895.9" x2="2036.2" y2="895.9" stroke="#4d4d4d" stroke-width="1.9" />
<circle cx="1994.1" cy="695.2" r="10.2" fill="#ee2e38"/>
<circle cx="2004.7" cy="712.0" r="10.2" fill="#ee2e38"/>
<circle cx="1994.1" cy="732.7" r="10.2" fill="#ee2e38"/>
<circle cx="2004.7" cy="751.4" r="10.2" fill="#ee2e38"/>
<circle cx="1999.2" cy="786.4" r="10.2" fill="#ee2e38"/>
<circle cx="2009.3" cy="789.5" r="10.2" fill="#ee2e38"/>
<circle cx="2004.7" cy="819.9" r="10.2" fill="#ee2e38"/>
<circle cx="2004.7" cy="857.4" r="10.2" fill="#ee2e38"/>
<circle cx="2014.4" cy="869.5" r="10.2" fill="#ee2e38"/>
<circle cx="2003.3" cy="882.7" r="10.2" fill="#ee2e38"/>
<circle cx="1993.1" cy="886.8" r="10.2" fill="#ee2e38"/>
<circle cx="1984.0" cy="893.9" r="10.2" fill="#ee2e38"/>
<circle cx="2025.6" cy="899.9" r="10.2" fill="#ee2e38"/>
<circle cx="1995.2" cy="913.1" r="10.2" fill="#ee2e38"/>
<circle cx="2014.4" cy="909.1" r="10.2" fill="#ee2e38"/>
<circle cx="2004.3" cy="905.0" r="10.2" fill="#ee2e38"/>
<circle cx="1983.0" cy="934.4" r="10.2" fill="#ee2e38"/>
<circle cx="1995.2" cy="935.4" r="10.2" fill="#ee2e38"/>
<circle cx="2004.3" cy="930.4" r="10.2" fill="#ee2e38"/>
<circle cx="2025.6" cy="935.4" r="10.2" fill="#ee2e38"/>
<circle cx="2014.4" cy="943.5" r="10.2" fill="#ee2e38"/>
<circle cx="2005.3" cy="953.7" r="10.2" fill="#ee2e38"/>
<circle cx="1983.0" cy="959.3" r="10.2" fill="#ee2e38"/>
<circle cx="2026.0" cy="963.8" r="10.2" fill="#ee2e38"/>
<line x1="2164.0" y1="1150.0" x2="2164.0" y2="1015.8" stroke="#4d4d4d" stroke-width="1.9" />
<line x1="2148.0" y1="1150.0" x2="2180.0" y2="1150.0" stroke="#4d4d4d" stroke-width="1.9" />
<line x1="2148.0" y1="1015.8" x2="2180.0" y2="1015.8" stroke="#4d4d4d" stroke-width="1.9" />
<rect x="2132.5" y="1039.3" width="63" height="72.7" fill="#f9c7dd" stroke="#4d4d4d" stroke-width="1.9"/>
<line x1="2132.5" y1="1090.3" x2="2195.5" y2="1090.3" stroke="#4d4d4d" stroke-width="1.9" />
<circle cx="2163.6" cy="1015.8" r="10.2" fill="#f390bd"/>
<circle cx="2142.5" cy="1033.8" r="10.2" fill="#f390bd"/>
<circle cx="2153.3" cy="1030.2" r="10.2" fill="#f390bd"/>
<circle cx="2184.5" cy="1033.8" r="10.2" fill="#f390bd"/>
<circle cx="2174.9" cy="1044.6" r="10.2" fill="#f390bd"/>
<circle cx="2159.3" cy="1056.6" r="10.2" fill="#f390bd"/>
<circle cx="2171.3" cy="1068.7" r="10.2" fill="#f390bd"/>
<circle cx="2155.7" cy="1087.9" r="10.2" fill="#f390bd"/>
<circle cx="2165.3" cy="1099.9" r="10.2" fill="#f390bd"/>
<circle cx="2142.5" cy="1113.1" r="10.2" fill="#f390bd"/>
<circle cx="2154.5" cy="1109.5" r="10.2" fill="#f390bd"/>
<circle cx="2171.3" cy="1107.1" r="10.2" fill="#f390bd"/>
<circle cx="2184.5" cy="1117.9" r="10.2" fill="#f390bd"/>
<circle cx="2150.9" cy="1123.9" r="10.2" fill="#f390bd"/>
<circle cx="2164.1" cy="1134.8" r="10.2" fill="#f390bd"/>
<circle cx="2171.3" cy="1143.2" r="10.2" fill="#f390bd"/>
<circle cx="2155.7" cy="1149.2" r="10.2" fill="#f390bd"/>
<circle cx="2164.1" cy="1031.4" r="10.2" fill="#f390bd"/>
<circle cx="2173.7" cy="1042.2" r="10.2" fill="#f390bd"/>
<circle cx="2164.1" cy="1083.1" r="10.2" fill="#f390bd"/>
<circle cx="2161.7" cy="1113.1" r="10.2" fill="#f390bd"/>
<circle cx="2174.9" cy="1115.5" r="10.2" fill="#f390bd"/>
<circle cx="2159.3" cy="1125.1" r="10.2" fill="#f390bd"/>
<circle cx="2163.6" cy="1047.0" r="10.2" fill="#f390bd"/>
<line x1="2259.2" y1="1083.0" x2="2259.2" y2="778.5" stroke="#4d4d4d" stroke-width="1.9" />
<line x1="2243.2" y1="1083.0" x2="2275.2" y2="1083.0" stroke="#4d4d4d" stroke-width="1.9" />
<line x1="2243.2" y1="778.5" x2="2275.2" y2="778.5" stroke="#4d4d4d" stroke-width="1.9" />
<rect x="2227.7" y="880.0" width="63" height="184.6" fill="#f9c7dd" stroke="#4d4d4d" stroke-width="1.9"/>
<line x1="2227.7" y1="958.1" x2="2290.7" y2="958.1" stroke="#4d4d4d" stroke-width="1.9" />
<circle cx="2253.8" cy="778.5" r="10.2" fill="#f390bd"/>
<circle cx="2263.4" cy="793.4" r="10.2" fill="#f390bd"/>
<circle cx="2271.1" cy="861.4" r="10.2" fill="#f390bd"/>
<circle cx="2259.0" cy="867.9" r="10.2" fill="#f390bd"/>
<circle cx="2246.5" cy="874.4" r="10.2" fill="#f390bd"/>
<circle cx="2268.7" cy="892.0" r="10.2" fill="#f390bd"/>
<circle cx="2245.8" cy="903.3" r="10.2" fill="#f390bd"/>
<circle cx="2271.1" cy="914.8" r="10.2" fill="#f390bd"/>
<circle cx="2263.4" cy="920.8" r="10.2" fill="#f390bd"/>
<circle cx="2270.6" cy="953.8" r="10.2" fill="#f390bd"/>
<circle cx="2254.2" cy="964.1" r="10.2" fill="#f390bd"/>
<circle cx="2263.8" cy="960.5" r="10.2" fill="#f390bd"/>
<circle cx="2254.2" cy="994.1" r="10.2" fill="#f390bd"/>
<circle cx="2262.6" cy="1006.2" r="10.2" fill="#f390bd"/>
<circle cx="2253.8" cy="1019.4" r="10.2" fill="#f390bd"/>
<circle cx="2245.8" cy="1068.7" r="10.2" fill="#f390bd"/>
<circle cx="2259.0" cy="1069.9" r="10.2" fill="#f390bd"/>
<circle cx="2271.1" cy="1063.8" r="10.2" fill="#f390bd"/>
<circle cx="2279.5" cy="1069.9" r="10.2" fill="#f390bd"/>
<circle cx="2237.4" cy="1078.3" r="10.2" fill="#f390bd"/>
<circle cx="2271.1" cy="1081.9" r="10.2" fill="#f390bd"/>
<line x1="2354.4" y1="1080.7" x2="2354.4" y2="677.3" stroke="#4d4d4d" stroke-width="1.9" />
<line x1="2338.4" y1="1080.7" x2="2370.4" y2="1080.7" stroke="#4d4d4d" stroke-width="1.9" />
<line x1="2338.4" y1="677.3" x2="2370.4" y2="677.3" stroke="#4d4d4d" stroke-width="1.9" />
<rect x="2322.9" y="876.3" width="63" height="180.3" fill="#f9c7dd" stroke="#4d4d4d" stroke-width="1.9"/>
<line x1="2322.9" y1="931.6" x2="2385.9" y2="931.6" stroke="#4d4d4d" stroke-width="1.9" />
<circle cx="2354.0" cy="677.3" r="10.2" fill="#f390bd"/>
<circle cx="2354.0" cy="782.6" r="10.2" fill="#f390bd"/>
<circle cx="2349.2" cy="816.2" r="10.2" fill="#f390bd"/>
<circle cx="2358.8" cy="826.3" r="10.2" fill="#f390bd"/>
<circle cx="2354.0" cy="851.1" r="10.2" fill="#f390bd"/>
<circle cx="2366.0" cy="873.9" r="10.2" fill="#f390bd"/>
<circle cx="2340.8" cy="884.8" r="10.2" fill="#f390bd"/>
<circle cx="2357.6" cy="896.8" r="10.2" fill="#f390bd"/>
<circle cx="2342.0" cy="912.4" r="10.2" fill="#f390bd"/>
<circle cx="2350.4" cy="907.6" r="10.2" fill="#f390bd"/>
<circle cx="2357.6" cy="932.8" r="10.2" fill="#f390bd"/>
<circle cx="2349.2" cy="930.4" r="10.2" fill="#f390bd"/>
<circle cx="2340.8" cy="966.5" r="10.2" fill="#f390bd"/>
<circle cx="2342.0" cy="985.7" r="10.2" fill="#f390bd"/>
<circle cx="2357.6" cy="983.3" r="10.2" fill="#f390bd"/>
<circle cx="2349.2" cy="1049.4" r="10.2" fill="#f390bd"/>
<circle cx="2332.4" cy="1074.7" r="10.2" fill="#f390bd"/>
<circle cx="2348.0" cy="1068.7" r="10.2" fill="#f390bd"/>
<circle cx="2361.2" cy="1071.1" r="10.2" fill="#f390bd"/>
<circle cx="2375.6" cy="1072.3" r="10.2" fill="#f390bd"/>
<circle cx="2366.0" cy="1079.5" r="10.2" fill="#f390bd"/>
<line x1="196.0" y1="2665.7" x2="1232.8" y2="2665.7" stroke="#4d4d4d" stroke-width="2" />
<line x1="279.6" y1="2665.7" x2="279.6" y2="2686.2" stroke="#4d4d4d" stroke-width="2" />
<line x1="374.8" y1="2665.7" x2="374.8" y2="2686.2" stroke="#4d4d4d" stroke-width="2" />
<line x1="470.0" y1="2665.7" x2="470.0" y2="2686.2" stroke="#4d4d4d" stroke-width="2" />
<line x1="629.3" y1="2665.7" x2="629.3" y2="2686.2" stroke="#4d4d4d" stroke-width="2" />
<line x1="724.5" y1="2665.7" x2="724.5" y2="2686.2" stroke="#4d4d4d" stroke-width="2" />
<line x1="819.7" y1="2665.7" x2="819.7" y2="2686.2" stroke="#4d4d4d" stroke-width="2" />
<line x1="979.0" y1="2665.7" x2="979.0" y2="2686.2" stroke="#4d4d4d" stroke-width="2" />
<line x1="1074.2" y1="2665.7" x2="1074.2" y2="2686.2" stroke="#4d4d4d" stroke-width="2" />
<line x1="1169.4" y1="2665.7" x2="1169.4" y2="2686.2" stroke="#4d4d4d" stroke-width="2" />
<text transform="translate(294.1,2711.7) rotate(-45)" font-size="41" letter-spacing="0.8" text-anchor="end" fill="#000">25%</text>
<text transform="translate(389.3,2711.7) rotate(-45)" font-size="41" letter-spacing="0.8" text-anchor="end" fill="#000">50%</text>
<text transform="translate(484.5,2711.7) rotate(-45)" font-size="41" letter-spacing="0.8" text-anchor="end" fill="#000">100%</text>
<text transform="translate(643.8,2711.7) rotate(-45)" font-size="41" letter-spacing="0.8" text-anchor="end" fill="#000">25%</text>
<text transform="translate(739.0,2711.7) rotate(-45)" font-size="41" letter-spacing="0.8" text-anchor="end" fill="#000">50%</text>
<text transform="translate(834.2,2711.7) rotate(-45)" font-size="41" letter-spacing="0.8" text-anchor="end" fill="#000">100%</text>
<text transform="translate(993.5,2711.7) rotate(-45)" font-size="41" letter-spacing="0.8" text-anchor="end" fill="#000">25%</text>
<text transform="translate(1088.7,2711.7) rotate(-45)" font-size="41" letter-spacing="0.8" text-anchor="end" fill="#000">50%</text>
<text transform="translate(1183.9,2711.7) rotate(-45)" font-size="41" letter-spacing="0.8" text-anchor="end" fill="#000">100%</text>
<line x1="216.1" y1="2665.7" x2="216.1" y2="2028.5" stroke="#4d4d4d" stroke-width="2" />
<line x1="195.6" y1="2665.7" x2="216.1" y2="2665.7" stroke="#4d4d4d" stroke-width="2" />
<text transform="translate(190.8,2664.8) scale(1,1.09)" x="0" y="14.5" font-size="40.5" text-anchor="end" fill="#000">0</text>
<line x1="195.6" y1="2506.3" x2="216.1" y2="2506.3" stroke="#4d4d4d" stroke-width="2" />
<text transform="translate(190.8,2505.4) scale(1,1.09)" x="0" y="14.5" font-size="40.5" text-anchor="end" fill="#000">5</text>
<line x1="195.6" y1="2346.9" x2="216.1" y2="2346.9" stroke="#4d4d4d" stroke-width="2" />
<text transform="translate(190.8,2346.0) scale(1,1.09)" x="0" y="14.5" font-size="40.5" text-anchor="end" fill="#000">10</text>
<line x1="195.6" y1="2187.7" x2="216.1" y2="2187.7" stroke="#4d4d4d" stroke-width="2" />
<text transform="translate(190.8,2186.8) scale(1,1.09)" x="0" y="14.5" font-size="40.5" text-anchor="end" fill="#000">15</text>
<line x1="203.1" y1="2028.5" x2="229.1" y2="2028.5" stroke="#4d4d4d" stroke-width="2" />
<text transform="translate(190.8,2027.6) scale(1,1.09)" x="0" y="14.5" font-size="40.5" text-anchor="end" fill="#000">20</text>
<line x1="216.1" y1="1905.7" x2="216.1" y2="1648.9" stroke="#4d4d4d" stroke-width="2" />
<line x1="195.6" y1="1648.9" x2="216.1" y2="1648.9" stroke="#4d4d4d" stroke-width="2" />
<text transform="translate(190.8,1648.0) scale(1,1.09)" x="0" y="14.5" font-size="40.5" text-anchor="end" fill="#000">150</text>
<line x1="195.6" y1="1747.5" x2="216.1" y2="1747.5" stroke="#4d4d4d" stroke-width="2" />
<text transform="translate(190.8,1746.6) scale(1,1.09)" x="0" y="14.5" font-size="40.5" text-anchor="end" fill="#000">100</text>
<line x1="195.6" y1="1846.3" x2="216.1" y2="1846.3" stroke="#4d4d4d" stroke-width="2" />
<text transform="translate(190.8,1845.4) scale(1,1.09)" x="0" y="14.5" font-size="40.5" text-anchor="end" fill="#000">50</text>
<line x1="203.1" y1="1905.7" x2="229.1" y2="1905.7" stroke="#4d4d4d" stroke-width="2" />
<text transform="translate(633.0,1519.8) scale(1,1.05)" font-size="51.8" text-anchor="middle" fill="#000">X-Displacement</text>
<text transform="translate(725.5,2854.6) scale(1,1.06)" font-size="51.8" text-anchor="middle" fill="#000">Volume (%)</text>
<text transform="translate(99.6,2158.4) rotate(-90) scale(1,1.08)" font-size="51.5" text-anchor="middle" fill="#000">Magnitude (µm)</text>
<path d="M470.0,1918.9 V1873.6 H1169.4 V2071.1" fill="none" stroke="#606060" stroke-width="1.9"/>
<text transform="translate(806.1,1878.5) scale(1,1.18)" font-family="DejaVu Sans, sans-serif" font-size="35" stroke="#000" stroke-width="1.7" stroke-linejoin="miter" text-anchor="middle" fill="#000">*</text>
<path d="M374.8,1995.0 V1948.6 H1074.2 V2071.1" fill="none" stroke="#606060" stroke-width="1.9"/>
<text transform="translate(719.3,1953.5) scale(1,1.18)" font-family="DejaVu Sans, sans-serif" font-size="35" stroke="#000" stroke-width="1.7" stroke-linejoin="miter" text-anchor="middle" fill="#000">*</text>
<path d="M279.6,2222.9 V2025.4 H979.0 V2055.7" fill="none" stroke="#606060" stroke-width="1.9"/>
<text transform="translate(631.4,2030.3) scale(1,1.18)" font-family="DejaVu Sans, sans-serif" font-size="35" stroke="#000" stroke-width="1.7" stroke-linejoin="miter" text-anchor="middle" fill="#000">*</text>
<path d="M470.0,2146.8 V2101.1 H809.7 V2146.8" fill="none" stroke="#606060" stroke-width="1.9"/>
<text transform="translate(640.4,2106.0) scale(1,1.18)" font-family="DejaVu Sans, sans-serif" font-size="35" stroke="#000" stroke-width="1.7" stroke-linejoin="miter" text-anchor="middle" fill="#000">*</text>
<path d="M829.7,2146.8 V2101.1 H1169.4 V2507.6" fill="none" stroke="#606060" stroke-width="1.9"/>
<text transform="translate(994.3,2106.0) scale(1,1.18)" font-family="DejaVu Sans, sans-serif" font-size="35" stroke="#000" stroke-width="1.7" stroke-linejoin="miter" text-anchor="middle" fill="#000">*</text>
<path d="M374.8,2222.9 V2176.4 H714.5 V2222.9" fill="none" stroke="#606060" stroke-width="1.9"/>
<text transform="translate(539.3,2181.3) scale(1,1.18)" font-family="DejaVu Sans, sans-serif" font-size="35" stroke="#000" stroke-width="1.7" stroke-linejoin="miter" text-anchor="middle" fill="#000">*</text>
<path d="M734.5,2222.9 V2176.4 H1074.2 V2519.7" fill="none" stroke="#606060" stroke-width="1.9"/>
<text transform="translate(898.9,2181.3) scale(1,1.18)" font-family="DejaVu Sans, sans-serif" font-size="35" stroke="#000" stroke-width="1.7" stroke-linejoin="miter" text-anchor="middle" fill="#000">*</text>
<path d="M279.6,2307.5 V2252.9 H619.3 V2366.0" fill="none" stroke="#606060" stroke-width="1.9"/>
<text transform="translate(449.3,2257.8) scale(1,1.18)" font-family="DejaVu Sans, sans-serif" font-size="35" stroke="#000" stroke-width="1.7" stroke-linejoin="miter" text-anchor="middle" fill="#000">*</text>
<path d="M639.3,2366.0 V2252.9 H979.0 V2535.6" fill="none" stroke="#606060" stroke-width="1.9"/>
<text transform="translate(811.4,2257.8) scale(1,1.18)" font-family="DejaVu Sans, sans-serif" font-size="35" stroke="#000" stroke-width="1.7" stroke-linejoin="miter" text-anchor="middle" fill="#000">*</text>
<line x1="279.6" y1="2477.5" x2="279.6" y2="2337.9" stroke="#4d4d4d" stroke-width="1.9" />
<line x1="263.6" y1="2477.5" x2="295.6" y2="2477.5" stroke="#4d4d4d" stroke-width="1.9" />
<line x1="263.6" y1="2337.9" x2="295.6" y2="2337.9" stroke="#4d4d4d" stroke-width="1.9" />
<rect x="248.1" y="2359.1" width="63" height="63.1" fill="#c37f6e" stroke="#4d4d4d" stroke-width="1.9"/>
<line x1="248.1" y1="2397.1" x2="311.1" y2="2397.1" stroke="#4d4d4d" stroke-width="1.9" />
<circle cx="258.7" cy="2372.9" r="10.2" fill="#8e181b"/>
<circle cx="301.9" cy="2377.3" r="10.2" fill="#8e181b"/>
<circle cx="280.3" cy="2376.4" r="10.2" fill="#8e181b"/>
<circle cx="259.6" cy="2399.7" r="10.2" fill="#8e181b"/>
<circle cx="301.9" cy="2398.9" r="10.2" fill="#8e181b"/>
<circle cx="266.5" cy="2337.5" r="10.2" fill="#8e181b"/>
<circle cx="284.6" cy="2340.1" r="10.2" fill="#8e181b"/>
<circle cx="275.1" cy="2348.8" r="10.2" fill="#8e181b"/>
<circle cx="259.6" cy="2364.3" r="10.2" fill="#8e181b"/>
<circle cx="269.9" cy="2360.8" r="10.2" fill="#8e181b"/>
<circle cx="282.0" cy="2362.6" r="10.2" fill="#8e181b"/>
<circle cx="301.0" cy="2367.8" r="10.2" fill="#8e181b"/>
<circle cx="290.7" cy="2371.2" r="10.2" fill="#8e181b"/>
<circle cx="257.8" cy="2383.3" r="10.2" fill="#8e181b"/>
<circle cx="259.6" cy="2390.2" r="10.2" fill="#8e181b"/>
<circle cx="269.9" cy="2379.9" r="10.2" fill="#8e181b"/>
<circle cx="301.0" cy="2386.8" r="10.2" fill="#8e181b"/>
<circle cx="288.9" cy="2393.7" r="10.2" fill="#8e181b"/>
<circle cx="276.8" cy="2386.8" r="10.2" fill="#8e181b"/>
<circle cx="259.6" cy="2409.2" r="10.2" fill="#8e181b"/>
<circle cx="269.9" cy="2407.5" r="10.2" fill="#8e181b"/>
<circle cx="282.0" cy="2404.0" r="10.2" fill="#8e181b"/>
<circle cx="292.4" cy="2411.0" r="10.2" fill="#8e181b"/>
<circle cx="301.0" cy="2409.2" r="10.2" fill="#8e181b"/>
<circle cx="266.5" cy="2423.1" r="10.2" fill="#8e181b"/>
<circle cx="290.7" cy="2419.6" r="10.2" fill="#8e181b"/>
<circle cx="283.8" cy="2437.7" r="10.2" fill="#8e181b"/>
<circle cx="266.5" cy="2454.2" r="10.2" fill="#8e181b"/>
<circle cx="292.4" cy="2457.6" r="10.2" fill="#8e181b"/>
<circle cx="283.8" cy="2468.0" r="10.2" fill="#8e181b"/>
<circle cx="266.5" cy="2478.4" r="10.2" fill="#8e181b"/>
<line x1="374.8" y1="2463.3" x2="374.8" y2="2312.1" stroke="#4d4d4d" stroke-width="1.9" />
<line x1="358.8" y1="2463.3" x2="390.8" y2="2463.3" stroke="#4d4d4d" stroke-width="1.9" />
<line x1="358.8" y1="2312.1" x2="390.8" y2="2312.1" stroke="#4d4d4d" stroke-width="1.9" />
<rect x="343.3" y="2349.6" width="63" height="60.5" fill="#c37f6e" stroke="#4d4d4d" stroke-width="1.9"/>
<line x1="343.3" y1="2392.0" x2="406.3" y2="2392.0" stroke="#4d4d4d" stroke-width="1.9" />
<circle cx="375.0" cy="2312.1" r="10.2" fill="#8e181b"/>
<circle cx="366.7" cy="2328.0" r="10.2" fill="#8e181b"/>
<circle cx="377.1" cy="2326.3" r="10.2" fill="#8e181b"/>
<circle cx="358.1" cy="2350.5" r="10.2" fill="#8e181b"/>
<circle cx="373.6" cy="2347.0" r="10.2" fill="#8e181b"/>
<circle cx="389.2" cy="2343.6" r="10.2" fill="#8e181b"/>
<circle cx="390.9" cy="2350.5" r="10.2" fill="#8e181b"/>
<circle cx="363.2" cy="2359.1" r="10.2" fill="#8e181b"/>
<circle cx="375.3" cy="2364.3" r="10.2" fill="#8e181b"/>
<circle cx="375.3" cy="2379.9" r="10.2" fill="#8e181b"/>
<circle cx="375.3" cy="2395.4" r="10.2" fill="#8e181b"/>
<circle cx="361.5" cy="2400.6" r="10.2" fill="#8e181b"/>
<circle cx="387.4" cy="2400.6" r="10.2" fill="#8e181b"/>
<circle cx="352.9" cy="2405.8" r="10.2" fill="#8e181b"/>
<circle cx="375.3" cy="2409.2" r="10.2" fill="#8e181b"/>
<circle cx="397.8" cy="2411.0" r="10.2" fill="#8e181b"/>
<circle cx="361.5" cy="2416.1" r="10.2" fill="#8e181b"/>
<circle cx="387.4" cy="2411.0" r="10.2" fill="#8e181b"/>
<circle cx="375.0" cy="2434.3" r="10.2" fill="#8e181b"/>
<circle cx="384.0" cy="2451.6" r="10.2" fill="#8e181b"/>
<circle cx="366.7" cy="2463.7" r="10.2" fill="#8e181b"/>
<circle cx="373.6" cy="2450.7" r="10.2" fill="#8e181b"/>
<line x1="470.0" y1="2436.9" x2="470.0" y2="2319.0" stroke="#4d4d4d" stroke-width="1.9" />
<line x1="454.0" y1="2436.9" x2="486.0" y2="2436.9" stroke="#4d4d4d" stroke-width="1.9" />
<line x1="454.0" y1="2319.0" x2="486.0" y2="2319.0" stroke="#4d4d4d" stroke-width="1.9" />
<rect x="438.5" y="2345.3" width="63" height="64.3" fill="#c37f6e" stroke="#4d4d4d" stroke-width="1.9"/>
<line x1="438.5" y1="2375.5" x2="501.5" y2="2375.5" stroke="#4d4d4d" stroke-width="1.9" />
<circle cx="474.7" cy="2318.5" r="10.2" fill="#8e181b"/>
<circle cx="465.2" cy="2328.0" r="10.2" fill="#8e181b"/>
<circle cx="487.7" cy="2338.4" r="10.2" fill="#8e181b"/>
<circle cx="475.6" cy="2340.1" r="10.2" fill="#8e181b"/>
<circle cx="454.8" cy="2347.0" r="10.2" fill="#8e181b"/>
<circle cx="465.2" cy="2341.8" r="10.2" fill="#8e181b"/>
<circle cx="484.2" cy="2359.1" r="10.2" fill="#8e181b"/>
<circle cx="454.8" cy="2374.7" r="10.2" fill="#8e181b"/>
<circle cx="473.8" cy="2376.4" r="10.2" fill="#8e181b"/>
<circle cx="465.2" cy="2371.2" r="10.2" fill="#8e181b"/>
<circle cx="484.2" cy="2364.3" r="10.2" fill="#8e181b"/>
<circle cx="449.6" cy="2398.9" r="10.2" fill="#8e181b"/>
<circle cx="491.1" cy="2400.6" r="10.2" fill="#8e181b"/>
<circle cx="460.0" cy="2407.5" r="10.2" fill="#8e181b"/>
<circle cx="480.7" cy="2407.5" r="10.2" fill="#8e181b"/>
<circle cx="470.4" cy="2414.4" r="10.2" fill="#8e181b"/>
<circle cx="453.1" cy="2428.2" r="10.2" fill="#8e181b"/>
<circle cx="466.9" cy="2424.8" r="10.2" fill="#8e181b"/>
<circle cx="479.0" cy="2423.1" r="10.2" fill="#8e181b"/>
<circle cx="487.7" cy="2436.9" r="10.2" fill="#8e181b"/>
<line x1="629.3" y1="2501.4" x2="629.3" y2="2397.8" stroke="#4d4d4d" stroke-width="1.9" />
<line x1="613.3" y1="2501.4" x2="645.3" y2="2501.4" stroke="#4d4d4d" stroke-width="1.9" />
<line x1="613.3" y1="2397.8" x2="645.3" y2="2397.8" stroke="#4d4d4d" stroke-width="1.9" />
<rect x="597.8" y="2424.9" width="63" height="50.6" fill="#f6a18c" stroke="#4d4d4d" stroke-width="1.9"/>
<line x1="597.8" y1="2443.6" x2="660.8" y2="2443.6" stroke="#4d4d4d" stroke-width="1.9" />
<circle cx="629.6" cy="2398.6" r="10.2" fill="#ee2e38"/>
<circle cx="626.8" cy="2416.8" r="10.2" fill="#ee2e38"/>
<circle cx="619.9" cy="2423.7" r="10.2" fill="#ee2e38"/>
<circle cx="638.9" cy="2422.0" r="10.2" fill="#ee2e38"/>
<circle cx="651.0" cy="2422.0" r="10.2" fill="#ee2e38"/>
<circle cx="609.6" cy="2437.5" r="10.2" fill="#ee2e38"/>
<circle cx="621.7" cy="2435.8" r="10.2" fill="#ee2e38"/>
<circle cx="633.8" cy="2435.8" r="10.2" fill="#ee2e38"/>
<circle cx="645.8" cy="2434.0" r="10.2" fill="#ee2e38"/>
<circle cx="613.0" cy="2447.9" r="10.2" fill="#ee2e38"/>
<circle cx="626.8" cy="2451.3" r="10.2" fill="#ee2e38"/>
<circle cx="640.7" cy="2447.9" r="10.2" fill="#ee2e38"/>
<circle cx="632.0" cy="2463.4" r="10.2" fill="#ee2e38"/>
<circle cx="640.7" cy="2460.0" r="10.2" fill="#ee2e38"/>
<circle cx="625.1" cy="2475.5" r="10.2" fill="#ee2e38"/>
<circle cx="635.5" cy="2479.0" r="10.2" fill="#ee2e38"/>
<circle cx="626.8" cy="2489.3" r="10.2" fill="#ee2e38"/>
<circle cx="637.2" cy="2491.1" r="10.2" fill="#ee2e38"/>
<circle cx="621.7" cy="2501.4" r="10.2" fill="#ee2e38"/>
<line x1="724.5" y1="2493.3" x2="724.5" y2="2399.0" stroke="#4d4d4d" stroke-width="1.9" />
<line x1="708.5" y1="2493.3" x2="740.5" y2="2493.3" stroke="#4d4d4d" stroke-width="1.9" />
<line x1="708.5" y1="2399.0" x2="740.5" y2="2399.0" stroke="#4d4d4d" stroke-width="1.9" />
<rect x="693.0" y="2415.0" width="63" height="41.0" fill="#f6a18c" stroke="#4d4d4d" stroke-width="1.9"/>
<line x1="693.0" y1="2439.2" x2="756.0" y2="2439.2" stroke="#4d4d4d" stroke-width="1.9" />
<circle cx="716.7" cy="2399.5" r="10.2" fill="#ee2e38"/>
<circle cx="732.2" cy="2398.6" r="10.2" fill="#ee2e38"/>
<circle cx="724.5" cy="2409.9" r="10.2" fill="#ee2e38"/>
<circle cx="715.0" cy="2413.3" r="10.2" fill="#ee2e38"/>
<circle cx="734.0" cy="2413.3" r="10.2" fill="#ee2e38"/>
<circle cx="725.0" cy="2422.0" r="10.2" fill="#ee2e38"/>
<circle cx="702.9" cy="2434.0" r="10.2" fill="#ee2e38"/>
<circle cx="746.1" cy="2441.0" r="10.2" fill="#ee2e38"/>
<circle cx="713.2" cy="2444.4" r="10.2" fill="#ee2e38"/>
<circle cx="725.0" cy="2441.0" r="10.2" fill="#ee2e38"/>
<circle cx="735.7" cy="2444.4" r="10.2" fill="#ee2e38"/>
<circle cx="708.1" cy="2453.1" r="10.2" fill="#ee2e38"/>
<circle cx="725.0" cy="2454.8" r="10.2" fill="#ee2e38"/>
<circle cx="740.9" cy="2453.1" r="10.2" fill="#ee2e38"/>
<circle cx="713.2" cy="2463.4" r="10.2" fill="#ee2e38"/>
<circle cx="735.7" cy="2463.4" r="10.2" fill="#ee2e38"/>
<circle cx="725.0" cy="2493.3" r="10.2" fill="#ee2e38"/>
<line x1="819.7" y1="2489.3" x2="819.7" y2="2349.4" stroke="#4d4d4d" stroke-width="1.9" />
<line x1="803.7" y1="2489.3" x2="835.7" y2="2489.3" stroke="#4d4d4d" stroke-width="1.9" />
<line x1="803.7" y1="2349.4" x2="835.7" y2="2349.4" stroke="#4d4d4d" stroke-width="1.9" />
<rect x="788.2" y="2411.1" width="63" height="27.4" fill="#f6a18c" stroke="#4d4d4d" stroke-width="1.9"/>
<line x1="788.2" y1="2432.3" x2="851.2" y2="2432.3" stroke="#4d4d4d" stroke-width="1.9" />
<circle cx="820.0" cy="2349.4" r="10.2" fill="#ee2e38"/>
<circle cx="816.9" cy="2402.9" r="10.2" fill="#ee2e38"/>
<circle cx="806.6" cy="2411.6" r="10.2" fill="#ee2e38"/>
<circle cx="834.2" cy="2408.1" r="10.2" fill="#ee2e38"/>
<circle cx="823.8" cy="2415.0" r="10.2" fill="#ee2e38"/>
<circle cx="799.6" cy="2427.1" r="10.2" fill="#ee2e38"/>
<circle cx="811.7" cy="2423.7" r="10.2" fill="#ee2e38"/>
<circle cx="797.9" cy="2439.2" r="10.2" fill="#ee2e38"/>
<circle cx="808.3" cy="2437.5" r="10.2" fill="#ee2e38"/>
<circle cx="820.4" cy="2441.0" r="10.2" fill="#ee2e38"/>
<circle cx="841.1" cy="2443.6" r="10.2" fill="#ee2e38"/>
<circle cx="830.7" cy="2444.4" r="10.2" fill="#ee2e38"/>
<circle cx="806.6" cy="2447.9" r="10.2" fill="#ee2e38"/>
<circle cx="820.4" cy="2454.8" r="10.2" fill="#ee2e38"/>
<circle cx="816.9" cy="2465.2" r="10.2" fill="#ee2e38"/>
<circle cx="822.1" cy="2463.4" r="10.2" fill="#ee2e38"/>
<circle cx="820.0" cy="2489.0" r="10.2" fill="#ee2e38"/>
<line x1="979.0" y1="2600.0" x2="979.0" y2="2565.0" stroke="#4d4d4d" stroke-width="1.9" />
<line x1="963.0" y1="2600.0" x2="995.0" y2="2600.0" stroke="#4d4d4d" stroke-width="1.9" />
<line x1="963.0" y1="2565.0" x2="995.0" y2="2565.0" stroke="#4d4d4d" stroke-width="1.9" />
<rect x="947.5" y="2582.5" width="63" height="10.5" fill="#f9c7dd" stroke="#4d4d4d" stroke-width="1.9"/>
<line x1="947.5" y1="2588.0" x2="1010.5" y2="2588.0" stroke="#4d4d4d" stroke-width="1.9" />
<circle cx="978.9" cy="2565.5" r="10.2" fill="#f390bd"/>
<circle cx="959.6" cy="2580.2" r="10.2" fill="#f390bd"/>
<circle cx="971.7" cy="2578.5" r="10.2" fill="#f390bd"/>
<circle cx="985.5" cy="2578.5" r="10.2" fill="#f390bd"/>
<circle cx="997.6" cy="2579.4" r="10.2" fill="#f390bd"/>
<circle cx="957.8" cy="2590.6" r="10.2" fill="#f390bd"/>
<circle cx="968.2" cy="2592.3" r="10.2" fill="#f390bd"/>
<circle cx="978.9" cy="2590.6" r="10.2" fill="#f390bd"/>
<circle cx="989.8" cy="2592.3" r="10.2" fill="#f390bd"/>
<circle cx="1000.2" cy="2590.6" r="10.2" fill="#f390bd"/>
<circle cx="963.0" cy="2599.2" r="10.2" fill="#f390bd"/>
<circle cx="975.1" cy="2600.1" r="10.2" fill="#f390bd"/>
<circle cx="985.5" cy="2600.1" r="10.2" fill="#f390bd"/>
<circle cx="995.8" cy="2599.2" r="10.2" fill="#f390bd"/>
<line x1="1074.2" y1="2597.0" x2="1074.2" y2="2549.1" stroke="#4d4d4d" stroke-width="1.9" />
<line x1="1058.2" y1="2597.0" x2="1090.2" y2="2597.0" stroke="#4d4d4d" stroke-width="1.9" />
<line x1="1058.2" y1="2549.1" x2="1090.2" y2="2549.1" stroke="#4d4d4d" stroke-width="1.9" />
<rect x="1042.7" y="2575.0" width="63" height="13.5" fill="#f9c7dd" stroke="#4d4d4d" stroke-width="1.9"/>
<line x1="1042.7" y1="2583.0" x2="1105.7" y2="2583.0" stroke="#4d4d4d" stroke-width="1.9" />
<circle cx="1074.5" cy="2548.3" r="10.2" fill="#f390bd"/>
<circle cx="1066.7" cy="2562.9" r="10.2" fill="#f390bd"/>
<circle cx="1080.5" cy="2562.9" r="10.2" fill="#f390bd"/>
<circle cx="1059.8" cy="2573.3" r="10.2" fill="#f390bd"/>
<circle cx="1074.5" cy="2573.3" r="10.2" fill="#f390bd"/>
<circle cx="1089.2" cy="2573.3" r="10.2" fill="#f390bd"/>
<circle cx="1052.9" cy="2585.4" r="10.2" fill="#f390bd"/>
<circle cx="1065.0" cy="2587.1" r="10.2" fill="#f390bd"/>
<circle cx="1077.1" cy="2587.1" r="10.2" fill="#f390bd"/>
<circle cx="1089.2" cy="2587.1" r="10.2" fill="#f390bd"/>
<circle cx="1096.1" cy="2590.6" r="10.2" fill="#f390bd"/>
<circle cx="1052.9" cy="2594.0" r="10.2" fill="#f390bd"/>
<circle cx="1066.7" cy="2599.2" r="10.2" fill="#f390bd"/>
<circle cx="1080.5" cy="2599.2" r="10.2" fill="#f390bd"/>
<circle cx="1090.9" cy="2595.8" r="10.2" fill="#f390bd"/>
<line x1="1169.4" y1="2604.4" x2="1169.4" y2="2537.9" stroke="#4d4d4d" stroke-width="1.9" />
<line x1="1153.4" y1="2604.4" x2="1185.4" y2="2604.4" stroke="#4d4d4d" stroke-width="1.9" />
<line x1="1153.4" y1="2537.9" x2="1185.4" y2="2537.9" stroke="#4d4d4d" stroke-width="1.9" />
<rect x="1137.9" y="2560.9" width="63" height="24.1" fill="#f9c7dd" stroke="#4d4d4d" stroke-width="1.9"/>
<line x1="1137.9" y1="2575.0" x2="1200.9" y2="2575.0" stroke="#4d4d4d" stroke-width="1.9" />
<circle cx="1169.0" cy="2537.9" r="10.2" fill="#f390bd"/>
<circle cx="1163.5" cy="2548.3" r="10.2" fill="#f390bd"/>
<circle cx="1175.6" cy="2556.0" r="10.2" fill="#f390bd"/>
<circle cx="1166.9" cy="2561.2" r="10.2" fill="#f390bd"/>
<circle cx="1147.9" cy="2575.0" r="10.2" fill="#f390bd"/>
<circle cx="1158.3" cy="2573.3" r="10.2" fill="#f390bd"/>
<circle cx="1170.4" cy="2573.3" r="10.2" fill="#f390bd"/>
<circle cx="1182.5" cy="2571.6" r="10.2" fill="#f390bd"/>
<circle cx="1191.1" cy="2576.8" r="10.2" fill="#f390bd"/>
<circle cx="1151.4" cy="2585.4" r="10.2" fill="#f390bd"/>
<circle cx="1163.5" cy="2587.1" r="10.2" fill="#f390bd"/>
<circle cx="1175.6" cy="2587.1" r="10.2" fill="#f390bd"/>
<circle cx="1185.9" cy="2587.1" r="10.2" fill="#f390bd"/>
<circle cx="1158.3" cy="2595.8" r="10.2" fill="#f390bd"/>
<circle cx="1170.4" cy="2597.5" r="10.2" fill="#f390bd"/>
<circle cx="1180.7" cy="2597.5" r="10.2" fill="#f390bd"/>
<circle cx="1173.8" cy="2606.1" r="10.2" fill="#f390bd"/>
<line x1="1381.5" y1="2663.0" x2="2416.5" y2="2663.0" stroke="#4d4d4d" stroke-width="2" />
<line x1="1464.0" y1="2663.0" x2="1464.0" y2="2683.5" stroke="#4d4d4d" stroke-width="2" />
<line x1="1559.2" y1="2663.0" x2="1559.2" y2="2683.5" stroke="#4d4d4d" stroke-width="2" />
<line x1="1654.4" y1="2663.0" x2="1654.4" y2="2683.5" stroke="#4d4d4d" stroke-width="2" />
<line x1="1813.7" y1="2663.0" x2="1813.7" y2="2683.5" stroke="#4d4d4d" stroke-width="2" />
<line x1="1908.9" y1="2663.0" x2="1908.9" y2="2683.5" stroke="#4d4d4d" stroke-width="2" />
<line x1="2004.1" y1="2663.0" x2="2004.1" y2="2683.5" stroke="#4d4d4d" stroke-width="2" />
<line x1="2163.4" y1="2663.0" x2="2163.4" y2="2683.5" stroke="#4d4d4d" stroke-width="2" />
<line x1="2258.6" y1="2663.0" x2="2258.6" y2="2683.5" stroke="#4d4d4d" stroke-width="2" />
<line x1="2353.8" y1="2663.0" x2="2353.8" y2="2683.5" stroke="#4d4d4d" stroke-width="2" />
<text transform="translate(1478.5,2709.0) rotate(-45)" font-size="41" letter-spacing="0.8" text-anchor="end" fill="#000">25%</text>
<text transform="translate(1573.7,2709.0) rotate(-45)" font-size="41" letter-spacing="0.8" text-anchor="end" fill="#000">50%</text>
<text transform="translate(1668.9,2709.0) rotate(-45)" font-size="41" letter-spacing="0.8" text-anchor="end" fill="#000">100%</text>
<text transform="translate(1828.2,2709.0) rotate(-45)" font-size="41" letter-spacing="0.8" text-anchor="end" fill="#000">25%</text>
<text transform="translate(1923.4,2709.0) rotate(-45)" font-size="41" letter-spacing="0.8" text-anchor="end" fill="#000">50%</text>
<text transform="translate(2018.6,2709.0) rotate(-45)" font-size="41" letter-spacing="0.8" text-anchor="end" fill="#000">100%</text>
<text transform="translate(2177.9,2709.0) rotate(-45)" font-size="41" letter-spacing="0.8" text-anchor="end" fill="#000">25%</text>
<text transform="translate(2273.1,2709.0) rotate(-45)" font-size="41" letter-spacing="0.8" text-anchor="end" fill="#000">50%</text>
<text transform="translate(2368.3,2709.0) rotate(-45)" font-size="41" letter-spacing="0.8" text-anchor="end" fill="#000">100%</text>
<line x1="1400.1" y1="2663.0" x2="1400.1" y2="1646.4" stroke="#4d4d4d" stroke-width="2" />
<line x1="1379.6" y1="2663.0" x2="1400.1" y2="2663.0" stroke="#4d4d4d" stroke-width="2" />
<text transform="translate(1381.0,2662.1) scale(1,1.09)" x="0" y="14.5" font-size="40.5" text-anchor="end" fill="#000">0</text>
<line x1="1379.6" y1="2493.6" x2="1400.1" y2="2493.6" stroke="#4d4d4d" stroke-width="2" />
<text transform="translate(1381.0,2492.7) scale(1,1.09)" x="0" y="14.5" font-size="40.5" text-anchor="end" fill="#000">25</text>
<line x1="1379.6" y1="2324.2" x2="1400.1" y2="2324.2" stroke="#4d4d4d" stroke-width="2" />
<text transform="translate(1381.0,2323.3) scale(1,1.09)" x="0" y="14.5" font-size="40.5" text-anchor="end" fill="#000">50</text>
<line x1="1379.6" y1="2154.7" x2="1400.1" y2="2154.7" stroke="#4d4d4d" stroke-width="2" />
<text transform="translate(1381.0,2153.8) scale(1,1.09)" x="0" y="14.5" font-size="40.5" text-anchor="end" fill="#000">75</text>
<line x1="1379.6" y1="1985.3" x2="1400.1" y2="1985.3" stroke="#4d4d4d" stroke-width="2" />
<text transform="translate(1381.0,1984.4) scale(1,1.09)" x="0" y="14.5" font-size="40.5" text-anchor="end" fill="#000">100</text>
<line x1="1379.6" y1="1815.8" x2="1400.1" y2="1815.8" stroke="#4d4d4d" stroke-width="2" />
<text transform="translate(1381.0,1814.9) scale(1,1.09)" x="0" y="14.5" font-size="40.5" text-anchor="end" fill="#000">125</text>
<line x1="1379.6" y1="1646.4" x2="1400.1" y2="1646.4" stroke="#4d4d4d" stroke-width="2" />
<text transform="translate(1381.0,1645.5) scale(1,1.09)" x="0" y="14.5" font-size="40.5" text-anchor="end" fill="#000">150</text>
<text transform="translate(1905.2,1520.3) scale(1,1.05)" font-size="51.8" text-anchor="middle" fill="#000">Y-Displacement</text>
<text transform="translate(1908.6,2854.6) scale(1,1.06)" font-size="51.8" text-anchor="middle" fill="#000">Volume (%)</text>
<text transform="translate(1283.6,2156.2) rotate(-90) scale(1,1.08)" font-size="51.5" text-anchor="middle" fill="#000">Magnitude (µm)</text>
<path d="M1654.4,1634.6 V1588.2 H2353.8 V1921.5" fill="none" stroke="#606060" stroke-width="1.9"/>
<text transform="translate(2004.3,1593.1) scale(1,1.18)" font-family="DejaVu Sans, sans-serif" font-size="35" stroke="#000" stroke-width="1.7" stroke-linejoin="miter" text-anchor="middle" fill="#000">*</text>
<path d="M1559.2,1785.7 V1664.5 H2258.6 V2083.0" fill="none" stroke="#606060" stroke-width="1.9"/>
<text transform="translate(1909.1,1669.4) scale(1,1.18)" font-family="DejaVu Sans, sans-serif" font-size="35" stroke="#000" stroke-width="1.7" stroke-linejoin="miter" text-anchor="middle" fill="#000">*</text>
<path d="M1654.4,1785.7 V1740.5 H2004.1 V2047.3" fill="none" stroke="#606060" stroke-width="1.9"/>
<text transform="translate(1823.7,1745.4) scale(1,1.18)" font-family="DejaVu Sans, sans-serif" font-size="35" stroke="#000" stroke-width="1.7" stroke-linejoin="miter" text-anchor="middle" fill="#000">*</text>
<path d="M1559.2,1862.5 V1816.0 H1908.9 V2176.7" fill="none" stroke="#606060" stroke-width="1.9"/>
<text transform="translate(1732.9,1820.9) scale(1,1.18)" font-family="DejaVu Sans, sans-serif" font-size="35" stroke="#000" stroke-width="1.7" stroke-linejoin="miter" text-anchor="middle" fill="#000">*</text>
<path d="M1464.0,2530.4 V1891.5 H1813.7 V2456.7" fill="none" stroke="#606060" stroke-width="1.9"/>
<text transform="translate(1639.3,1896.4) scale(1,1.18)" font-family="DejaVu Sans, sans-serif" font-size="35" stroke="#000" stroke-width="1.7" stroke-linejoin="miter" text-anchor="middle" fill="#000">*</text>
<line x1="1464.0" y1="2610.0" x2="1464.0" y2="2560.9" stroke="#4d4d4d" stroke-width="1.9" />
<line x1="1448.0" y1="2610.0" x2="1480.0" y2="2610.0" stroke="#4d4d4d" stroke-width="1.9" />
<line x1="1448.0" y1="2560.9" x2="1480.0" y2="2560.9" stroke="#4d4d4d" stroke-width="1.9" />
<rect x="1432.5" y="2584.0" width="63" height="17.9" fill="#c37f6e" stroke="#4d4d4d" stroke-width="1.9"/>
<line x1="1432.5" y1="2593.0" x2="1495.5" y2="2593.0" stroke="#4d4d4d" stroke-width="1.9" />
<circle cx="1464.1" cy="2560.3" r="10.2" fill="#8e181b"/>
<circle cx="1460.9" cy="2571.6" r="10.2" fill="#8e181b"/>
<circle cx="1479.7" cy="2579.2" r="10.2" fill="#8e181b"/>
<circle cx="1447.7" cy="2586.7" r="10.2" fill="#8e181b"/>
<circle cx="1460.9" cy="2584.8" r="10.2" fill="#8e181b"/>
<circle cx="1474.1" cy="2588.6" r="10.2" fill="#8e181b"/>
<circle cx="1485.4" cy="2588.6" r="10.2" fill="#8e181b"/>
<circle cx="1442.0" cy="2594.2" r="10.2" fill="#8e181b"/>
<circle cx="1453.3" cy="2598.0" r="10.2" fill="#8e181b"/>
<circle cx="1466.5" cy="2598.0" r="10.2" fill="#8e181b"/>
<circle cx="1479.7" cy="2599.9" r="10.2" fill="#8e181b"/>
<circle cx="1487.3" cy="2596.1" r="10.2" fill="#8e181b"/>
<circle cx="1455.2" cy="2609.3" r="10.2" fill="#8e181b"/>
<circle cx="1466.5" cy="2611.2" r="10.2" fill="#8e181b"/>
<circle cx="1476.0" cy="2609.3" r="10.2" fill="#8e181b"/>
<circle cx="1466.5" cy="2622.5" r="10.2" fill="#8e181b"/>
<line x1="1559.2" y1="2593.0" x2="1559.2" y2="2351.6" stroke="#4d4d4d" stroke-width="1.9" />
<line x1="1543.2" y1="2593.0" x2="1575.2" y2="2593.0" stroke="#4d4d4d" stroke-width="1.9" />
<line x1="1543.2" y1="2351.6" x2="1575.2" y2="2351.6" stroke="#4d4d4d" stroke-width="1.9" />
<rect x="1527.7" y="2434.9" width="63" height="104.5" fill="#c37f6e" stroke="#4d4d4d" stroke-width="1.9"/>
<line x1="1527.7" y1="2520.8" x2="1590.7" y2="2520.8" stroke="#4d4d4d" stroke-width="1.9" />
<circle cx="1559.2" cy="2351.7" r="10.2" fill="#8e181b"/>
<circle cx="1548.5" cy="2396.4" r="10.2" fill="#8e181b"/>
<circle cx="1559.8" cy="2392.6" r="10.2" fill="#8e181b"/>
<circle cx="1569.2" cy="2404.9" r="10.2" fill="#8e181b"/>
<circle cx="1564.5" cy="2417.1" r="10.2" fill="#8e181b"/>
<circle cx="1554.1" cy="2424.7" r="10.2" fill="#8e181b"/>
<circle cx="1559.2" cy="2462.3" r="10.2" fill="#8e181b"/>
<circle cx="1554.1" cy="2479.3" r="10.2" fill="#8e181b"/>
<circle cx="1563.6" cy="2484.0" r="10.2" fill="#8e181b"/>
<circle cx="1554.1" cy="2497.2" r="10.2" fill="#8e181b"/>
<circle cx="1563.6" cy="2495.3" r="10.2" fill="#8e181b"/>
<circle cx="1554.1" cy="2518.9" r="10.2" fill="#8e181b"/>
<circle cx="1543.8" cy="2524.5" r="10.2" fill="#8e181b"/>
<circle cx="1575.8" cy="2524.5" r="10.2" fill="#8e181b"/>
<circle cx="1557.0" cy="2534.0" r="10.2" fill="#8e181b"/>
<circle cx="1566.4" cy="2535.8" r="10.2" fill="#8e181b"/>
<circle cx="1580.5" cy="2543.4" r="10.2" fill="#8e181b"/>
<circle cx="1538.1" cy="2549.0" r="10.2" fill="#8e181b"/>
<circle cx="1554.1" cy="2571.6" r="10.2" fill="#8e181b"/>
<circle cx="1575.8" cy="2573.5" r="10.2" fill="#8e181b"/>
<circle cx="1564.5" cy="2586.7" r="10.2" fill="#8e181b"/>
<circle cx="1542.8" cy="2591.4" r="10.2" fill="#8e181b"/>
<line x1="1654.4" y1="2587.5" x2="1654.4" y2="2272.4" stroke="#4d4d4d" stroke-width="1.9" />
<line x1="1638.4" y1="2587.5" x2="1670.4" y2="2587.5" stroke="#4d4d4d" stroke-width="1.9" />
<line x1="1638.4" y1="2272.4" x2="1670.4" y2="2272.4" stroke="#4d4d4d" stroke-width="1.9" />
<rect x="1622.9" y="2391.7" width="63" height="151.6" fill="#c37f6e" stroke="#4d4d4d" stroke-width="1.9"/>
<line x1="1622.9" y1="2495.0" x2="1685.9" y2="2495.0" stroke="#4d4d4d" stroke-width="1.9" />
<circle cx="1654.6" cy="2272.4" r="10.2" fill="#8e181b"/>
<circle cx="1654.6" cy="2299.9" r="10.2" fill="#8e181b"/>
<circle cx="1654.6" cy="2335.7" r="10.2" fill="#8e181b"/>
<circle cx="1641.8" cy="2356.8" r="10.2" fill="#8e181b"/>
<circle cx="1649.3" cy="2370.0" r="10.2" fill="#8e181b"/>
<circle cx="1658.7" cy="2372.8" r="10.2" fill="#8e181b"/>
<circle cx="1650.2" cy="2445.4" r="10.2" fill="#8e181b"/>
<circle cx="1658.7" cy="2442.6" r="10.2" fill="#8e181b"/>
<circle cx="1659.1" cy="2475.5" r="10.2" fill="#8e181b"/>
<circle cx="1634.2" cy="2493.4" r="10.2" fill="#8e181b"/>
<circle cx="1645.5" cy="2492.5" r="10.2" fill="#8e181b"/>
<circle cx="1668.1" cy="2490.6" r="10.2" fill="#8e181b"/>
<circle cx="1675.7" cy="2501.9" r="10.2" fill="#8e181b"/>
<circle cx="1656.8" cy="2498.1" r="10.2" fill="#8e181b"/>
<circle cx="1650.2" cy="2520.8" r="10.2" fill="#8e181b"/>
<circle cx="1642.7" cy="2533.0" r="10.2" fill="#8e181b"/>
<circle cx="1658.7" cy="2534.0" r="10.2" fill="#8e181b"/>
<circle cx="1653.1" cy="2545.3" r="10.2" fill="#8e181b"/>
<circle cx="1641.8" cy="2553.7" r="10.2" fill="#8e181b"/>
<circle cx="1666.3" cy="2550.9" r="10.2" fill="#8e181b"/>
<circle cx="1656.8" cy="2556.6" r="10.2" fill="#8e181b"/>
<circle cx="1658.7" cy="2577.3" r="10.2" fill="#8e181b"/>
<circle cx="1648.9" cy="2587.7" r="10.2" fill="#8e181b"/>
<line x1="1813.7" y1="2610.0" x2="1813.7" y2="2487.2" stroke="#4d4d4d" stroke-width="1.9" />
<line x1="1797.7" y1="2610.0" x2="1829.7" y2="2610.0" stroke="#4d4d4d" stroke-width="1.9" />
<line x1="1797.7" y1="2487.2" x2="1829.7" y2="2487.2" stroke="#4d4d4d" stroke-width="1.9" />
<rect x="1782.2" y="2547.1" width="63" height="50.0" fill="#f6a18c" stroke="#4d4d4d" stroke-width="1.9"/>
<line x1="1782.2" y1="2581.7" x2="1845.2" y2="2581.7" stroke="#4d4d4d" stroke-width="1.9" />
<circle cx="1813.7" cy="2487.0" r="10.2" fill="#ee2e38"/>
<circle cx="1810.0" cy="2511.5" r="10.2" fill="#ee2e38"/>
<circle cx="1817.0" cy="2519.8" r="10.2" fill="#ee2e38"/>
<circle cx="1812.8" cy="2542.1" r="10.2" fill="#ee2e38"/>
<circle cx="1810.0" cy="2558.8" r="10.2" fill="#ee2e38"/>
<circle cx="1818.4" cy="2564.3" r="10.2" fill="#ee2e38"/>
<circle cx="1804.5" cy="2572.7" r="10.2" fill="#ee2e38"/>
<circle cx="1832.3" cy="2572.7" r="10.2" fill="#ee2e38"/>
<circle cx="1822.6" cy="2578.2" r="10.2" fill="#ee2e38"/>
<circle cx="1796.1" cy="2589.3" r="10.2" fill="#ee2e38"/>
<circle cx="1812.8" cy="2586.6" r="10.2" fill="#ee2e38"/>
<circle cx="1829.5" cy="2592.1" r="10.2" fill="#ee2e38"/>
<circle cx="1790.6" cy="2604.6" r="10.2" fill="#ee2e38"/>
<circle cx="1807.3" cy="2606.0" r="10.2" fill="#ee2e38"/>
<circle cx="1823.9" cy="2606.0" r="10.2" fill="#ee2e38"/>
<circle cx="1835.1" cy="2606.0" r="10.2" fill="#ee2e38"/>
<circle cx="1815.6" cy="2611.6" r="10.2" fill="#ee2e38"/>
<line x1="1908.9" y1="2534.3" x2="1908.9" y2="2206.3" stroke="#4d4d4d" stroke-width="1.9" />
<line x1="1892.9" y1="2534.3" x2="1924.9" y2="2534.3" stroke="#4d4d4d" stroke-width="1.9" />
<line x1="1892.9" y1="2206.3" x2="1924.9" y2="2206.3" stroke="#4d4d4d" stroke-width="1.9" />
<rect x="1877.4" y="2312.9" width="63" height="165.1" fill="#f6a18c" stroke="#4d4d4d" stroke-width="1.9"/>
<line x1="1877.4" y1="2444.2" x2="1940.4" y2="2444.2" stroke="#4d4d4d" stroke-width="1.9" />
<circle cx="1898.2" cy="2207.1" r="10.2" fill="#ee2e38"/>
<circle cx="1908.7" cy="2217.4" r="10.2" fill="#ee2e38"/>
<circle cx="1908.7" cy="2252.9" r="10.2" fill="#ee2e38"/>
<circle cx="1919.0" cy="2288.5" r="10.2" fill="#ee2e38"/>
<circle cx="1898.2" cy="2294.1" r="10.2" fill="#ee2e38"/>
<circle cx="1919.0" cy="2309.9" r="10.2" fill="#ee2e38"/>
<circle cx="1908.7" cy="2315.5" r="10.2" fill="#ee2e38"/>
<circle cx="1908.7" cy="2345.5" r="10.2" fill="#ee2e38"/>
<circle cx="1887.3" cy="2423.9" r="10.2" fill="#ee2e38"/>
<circle cx="1919.0" cy="2421.1" r="10.2" fill="#ee2e38"/>
<circle cx="1929.6" cy="2433.7" r="10.2" fill="#ee2e38"/>
<circle cx="1908.7" cy="2437.8" r="10.2" fill="#ee2e38"/>
<circle cx="1898.2" cy="2450.3" r="10.2" fill="#ee2e38"/>
<circle cx="1919.0" cy="2451.7" r="10.2" fill="#ee2e38"/>
<circle cx="1887.3" cy="2461.5" r="10.2" fill="#ee2e38"/>
<circle cx="1898.2" cy="2469.8" r="10.2" fill="#ee2e38"/>
<circle cx="1887.3" cy="2483.7" r="10.2" fill="#ee2e38"/>
<circle cx="1908.7" cy="2480.9" r="10.2" fill="#ee2e38"/>
<circle cx="1919.0" cy="2479.5" r="10.2" fill="#ee2e38"/>
<circle cx="1930.1" cy="2483.7" r="10.2" fill="#ee2e38"/>
<circle cx="1908.7" cy="2500.4" r="10.2" fill="#ee2e38"/>
<circle cx="1908.7" cy="2522.6" r="10.2" fill="#ee2e38"/>
<circle cx="1898.2" cy="2536.5" r="10.2" fill="#ee2e38"/>
<circle cx="1919.0" cy="2535.1" r="10.2" fill="#ee2e38"/>
<line x1="2004.1" y1="2499.3" x2="2004.1" y2="2077.2" stroke="#4d4d4d" stroke-width="1.9" />
<line x1="1988.1" y1="2499.3" x2="2020.1" y2="2499.3" stroke="#4d4d4d" stroke-width="1.9" />
<line x1="1988.1" y1="2077.2" x2="2020.1" y2="2077.2" stroke="#4d4d4d" stroke-width="1.9" />
<rect x="1972.6" y="2227.2" width="63" height="224.3" fill="#f6a18c" stroke="#4d4d4d" stroke-width="1.9"/>
<line x1="1972.6" y1="2390.0" x2="2035.6" y2="2390.0" stroke="#4d4d4d" stroke-width="1.9" />
<circle cx="2003.8" cy="2077.0" r="10.2" fill="#ee2e38"/>
<circle cx="1990.7" cy="2123.7" r="10.2" fill="#ee2e38"/>
<circle cx="2015.8" cy="2133.4" r="10.2" fill="#ee2e38"/>
<circle cx="1999.1" cy="2137.6" r="10.2" fill="#ee2e38"/>
<circle cx="1999.6" cy="2204.3" r="10.2" fill="#ee2e38"/>
<circle cx="2008.3" cy="2219.0" r="10.2" fill="#ee2e38"/>
<circle cx="2003.8" cy="2245.2" r="10.2" fill="#ee2e38"/>
<circle cx="2003.8" cy="2340.0" r="10.2" fill="#ee2e38"/>
<circle cx="2008.3" cy="2366.1" r="10.2" fill="#ee2e38"/>
<circle cx="1982.4" cy="2383.6" r="10.2" fill="#ee2e38"/>
<circle cx="1996.3" cy="2380.8" r="10.2" fill="#ee2e38"/>
<circle cx="2025.5" cy="2395.6" r="10.2" fill="#ee2e38"/>
<circle cx="2010.2" cy="2392.0" r="10.2" fill="#ee2e38"/>
<circle cx="1999.1" cy="2408.6" r="10.2" fill="#ee2e38"/>
<circle cx="2008.3" cy="2428.1" r="10.2" fill="#ee2e38"/>
<circle cx="1982.4" cy="2455.9" r="10.2" fill="#ee2e38"/>
<circle cx="1993.5" cy="2453.1" r="10.2" fill="#ee2e38"/>
<circle cx="1999.1" cy="2464.2" r="10.2" fill="#ee2e38"/>
<circle cx="2013.0" cy="2458.7" r="10.2" fill="#ee2e38"/>
<circle cx="2025.5" cy="2453.1" r="10.2" fill="#ee2e38"/>
<circle cx="1999.1" cy="2499.0" r="10.2" fill="#ee2e38"/>
<circle cx="2008.3" cy="2499.0" r="10.2" fill="#ee2e38"/>
<line x1="2163.4" y1="2650.0" x2="2163.4" y2="2479.1" stroke="#4d4d4d" stroke-width="1.9" />
<line x1="2147.4" y1="2650.0" x2="2179.4" y2="2650.0" stroke="#4d4d4d" stroke-width="1.9" />
<line x1="2147.4" y1="2479.1" x2="2179.4" y2="2479.1" stroke="#4d4d4d" stroke-width="1.9" />
<rect x="2131.9" y="2520.7" width="63" height="100.7" fill="#f9c7dd" stroke="#4d4d4d" stroke-width="1.9"/>
<line x1="2131.9" y1="2589.4" x2="2194.9" y2="2589.4" stroke="#4d4d4d" stroke-width="1.9" />
<circle cx="2162.9" cy="2478.6" r="10.2" fill="#f390bd"/>
<circle cx="2153.8" cy="2492.8" r="10.2" fill="#f390bd"/>
<circle cx="2170.8" cy="2495.6" r="10.2" fill="#f390bd"/>
<circle cx="2162.9" cy="2509.7" r="10.2" fill="#f390bd"/>
<circle cx="2158.1" cy="2518.2" r="10.2" fill="#f390bd"/>
<circle cx="2162.9" cy="2528.1" r="10.2" fill="#f390bd"/>
<circle cx="2162.9" cy="2549.3" r="10.2" fill="#f390bd"/>
<circle cx="2170.8" cy="2550.7" r="10.2" fill="#f390bd"/>
<circle cx="2153.8" cy="2562.0" r="10.2" fill="#f390bd"/>
<circle cx="2160.9" cy="2574.8" r="10.2" fill="#f390bd"/>
<circle cx="2155.2" cy="2586.1" r="10.2" fill="#f390bd"/>
<circle cx="2170.8" cy="2591.7" r="10.2" fill="#f390bd"/>
<circle cx="2162.9" cy="2600.2" r="10.2" fill="#f390bd"/>
<circle cx="2149.6" cy="2611.5" r="10.2" fill="#f390bd"/>
<circle cx="2166.5" cy="2614.4" r="10.2" fill="#f390bd"/>
<circle cx="2183.5" cy="2614.4" r="10.2" fill="#f390bd"/>
<circle cx="2141.1" cy="2628.5" r="10.2" fill="#f390bd"/>
<circle cx="2158.1" cy="2625.7" r="10.2" fill="#f390bd"/>
<circle cx="2175.0" cy="2625.7" r="10.2" fill="#f390bd"/>
<circle cx="2162.9" cy="2634.1" r="10.2" fill="#f390bd"/>
<circle cx="2149.6" cy="2645.5" r="10.2" fill="#f390bd"/>
<circle cx="2175.0" cy="2644.0" r="10.2" fill="#f390bd"/>
<circle cx="2162.9" cy="2645.5" r="10.2" fill="#f390bd"/>
<line x1="2258.6" y1="2593.1" x2="2258.6" y2="2112.5" stroke="#4d4d4d" stroke-width="1.9" />
<line x1="2242.6" y1="2593.1" x2="2274.6" y2="2593.1" stroke="#4d4d4d" stroke-width="1.9" />
<line x1="2242.6" y1="2112.5" x2="2274.6" y2="2112.5" stroke="#4d4d4d" stroke-width="1.9" />
<rect x="2227.1" y="2275.8" width="63" height="278.7" fill="#f9c7dd" stroke="#4d4d4d" stroke-width="1.9"/>
<line x1="2227.1" y1="2390.9" x2="2290.1" y2="2390.9" stroke="#4d4d4d" stroke-width="1.9" />
<circle cx="2247.1" cy="2112.5" r="10.2" fill="#f390bd"/>
<circle cx="2257.9" cy="2130.9" r="10.2" fill="#f390bd"/>
<circle cx="2247.1" cy="2235.5" r="10.2" fill="#f390bd"/>
<circle cx="2257.9" cy="2245.4" r="10.2" fill="#f390bd"/>
<circle cx="2268.3" cy="2255.3" r="10.2" fill="#f390bd"/>
<circle cx="2257.9" cy="2268.9" r="10.2" fill="#f390bd"/>
<circle cx="2268.3" cy="2292.0" r="10.2" fill="#f390bd"/>
<circle cx="2279.6" cy="2297.1" r="10.2" fill="#f390bd"/>
<circle cx="2236.4" cy="2304.8" r="10.2" fill="#f390bd"/>
<circle cx="2257.9" cy="2310.4" r="10.2" fill="#f390bd"/>
<circle cx="2257.9" cy="2331.6" r="10.2" fill="#f390bd"/>
<circle cx="2268.3" cy="2381.1" r="10.2" fill="#f390bd"/>
<circle cx="2257.9" cy="2399.5" r="10.2" fill="#f390bd"/>
<circle cx="2247.1" cy="2403.7" r="10.2" fill="#f390bd"/>
<circle cx="2262.7" cy="2451.8" r="10.2" fill="#f390bd"/>
<circle cx="2251.4" cy="2460.3" r="10.2" fill="#f390bd"/>
<circle cx="2257.9" cy="2483.7" r="10.2" fill="#f390bd"/>
<circle cx="2236.4" cy="2553.6" r="10.2" fill="#f390bd"/>
<circle cx="2257.9" cy="2555.0" r="10.2" fill="#f390bd"/>
<circle cx="2268.3" cy="2556.4" r="10.2" fill="#f390bd"/>
<circle cx="2279.6" cy="2560.6" r="10.2" fill="#f390bd"/>
<circle cx="2247.1" cy="2570.5" r="10.2" fill="#f390bd"/>
<circle cx="2268.3" cy="2576.2" r="10.2" fill="#f390bd"/>
<circle cx="2247.1" cy="2591.7" r="10.2" fill="#f390bd"/>
<line x1="2353.8" y1="2593.1" x2="2353.8" y2="1951.5" stroke="#4d4d4d" stroke-width="1.9" />
<line x1="2337.8" y1="2593.1" x2="2369.8" y2="2593.1" stroke="#4d4d4d" stroke-width="1.9" />
<line x1="2337.8" y1="1951.5" x2="2369.8" y2="1951.5" stroke="#4d4d4d" stroke-width="1.9" />
<rect x="2322.3" y="2262.2" width="63" height="283.8" fill="#f9c7dd" stroke="#4d4d4d" stroke-width="1.9"/>
<line x1="2322.3" y1="2346.0" x2="2385.3" y2="2346.0" stroke="#4d4d4d" stroke-width="1.9" />
<circle cx="2353.2" cy="1951.5" r="10.2" fill="#f390bd"/>
<circle cx="2353.1" cy="2116.2" r="10.2" fill="#f390bd"/>
<circle cx="2353.1" cy="2167.6" r="10.2" fill="#f390bd"/>
<circle cx="2353.1" cy="2195.9" r="10.2" fill="#f390bd"/>
<circle cx="2353.1" cy="2219.1" r="10.2" fill="#f390bd"/>
<circle cx="2346.1" cy="2259.5" r="10.2" fill="#f390bd"/>
<circle cx="2360.2" cy="2263.8" r="10.2" fill="#f390bd"/>
<circle cx="2353.1" cy="2290.1" r="10.2" fill="#f390bd"/>
<circle cx="2346.1" cy="2310.4" r="10.2" fill="#f390bd"/>
<circle cx="2331.4" cy="2321.2" r="10.2" fill="#f390bd"/>
<circle cx="2375.2" cy="2327.4" r="10.2" fill="#f390bd"/>
<circle cx="2346.1" cy="2348.6" r="10.2" fill="#f390bd"/>
<circle cx="2360.2" cy="2347.2" r="10.2" fill="#f390bd"/>
<circle cx="2353.1" cy="2402.3" r="10.2" fill="#f390bd"/>
<circle cx="2339.0" cy="2435.7" r="10.2" fill="#f390bd"/>
<circle cx="2367.8" cy="2431.4" r="10.2" fill="#f390bd"/>
<circle cx="2353.1" cy="2444.7" r="10.2" fill="#f390bd"/>
<circle cx="2353.1" cy="2526.1" r="10.2" fill="#f390bd"/>
<circle cx="2346.1" cy="2557.8" r="10.2" fill="#f390bd"/>
<circle cx="2360.2" cy="2555.0" r="10.2" fill="#f390bd"/>
<circle cx="2331.4" cy="2566.9" r="10.2" fill="#f390bd"/>
<circle cx="2375.2" cy="2561.2" r="10.2" fill="#f390bd"/>
<circle cx="2360.2" cy="2577.6" r="10.2" fill="#f390bd"/>
<circle cx="2346.1" cy="2591.7" r="10.2" fill="#f390bd"/>
<text x="40.0" y="71.0" font-size="62.5" text-anchor="start" fill="#ee1b23" >A.</text>
<text x="1188.7" y="71.0" font-size="62.5" text-anchor="start" fill="#ee1b23" >B.</text>
<text x="42.5" y="1519.8" font-size="62.5" text-anchor="start" fill="#ee1b23" >C.</text>
<text x="1187.8" y="1520.3" font-size="62.5" text-anchor="start" fill="#ee1b23" >D.</text>
<text x="659.3" y="2974.4" font-size="51.5" text-anchor="start" fill="#231f20" letter-spacing="0.7">Frequency:</text>
<rect x="985.5" y="2940" width="66.4" height="35.6" fill="#c37f6e" stroke="#4a4a4a" stroke-width="1.6"/>
<text x="1089.2" y="2974.4" font-size="51.5" text-anchor="start" fill="#000" >85Hz</text>
<rect x="1283.7" y="2940" width="66.4" height="35.6" fill="#f6a18c" stroke="#4a4a4a" stroke-width="1.6"/>
<text x="1388.6" y="2974.4" font-size="51.5" text-anchor="start" fill="#000" >100Hz</text>
<rect x="1606.6" y="2940" width="66.4" height="35.6" fill="#f9c7dd" stroke="#4a4a4a" stroke-width="1.6"/>
<text x="1710.6" y="2974.4" font-size="51.5" text-anchor="start" fill="#000" >200Hz</text>
</svg></body></html>
